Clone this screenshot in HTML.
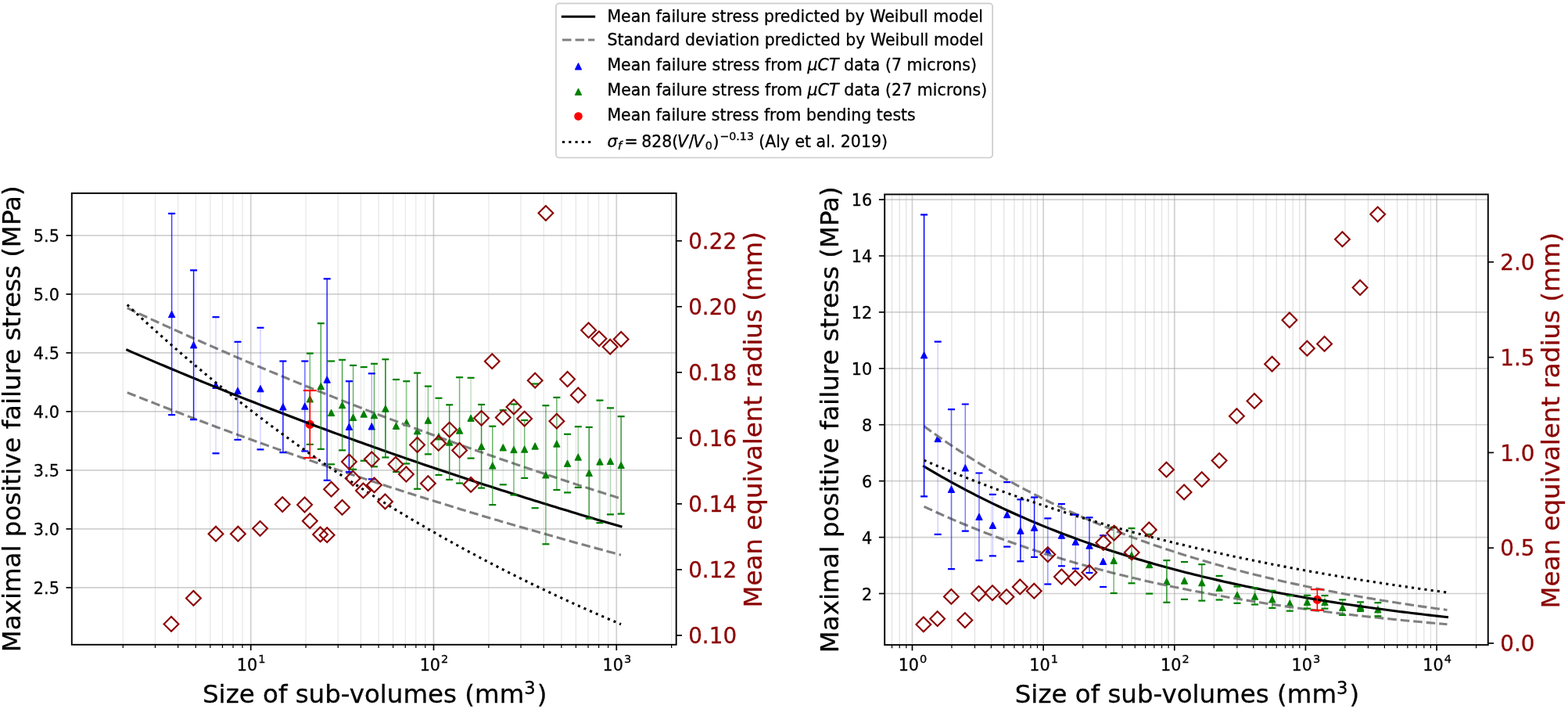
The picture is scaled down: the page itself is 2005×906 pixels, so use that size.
<!DOCTYPE html>
<html><head><meta charset="utf-8"><title>Failure stress vs sub-volume size</title>
<style>html,body{margin:0;padding:0;background:#fff;overflow:hidden}svg{display:block}text{stroke:currentColor;stroke-width:0.3px;paint-order:stroke}</style>
</head><body>
<svg width="2005" height="906" viewBox="0 0 2005 906" font-family="&quot;DejaVu Sans&quot;, &quot;Liberation Sans&quot;, sans-serif">
<defs>
<clipPath id="clipL"><rect x="91.8" y="246.9" width="772.9" height="576.9"/></clipPath>
<clipPath id="clipR"><rect x="1131.2" y="248.4" width="771.6" height="575.7"/></clipPath>
</defs>
<rect width="2005" height="906" fill="#fff"/>
<g>
<line x1="157.28" y1="246.9" x2="157.28" y2="823.8" stroke="#b0b0b0" stroke-opacity="0.3" stroke-width="1.2"/>
<line x1="198.45" y1="246.9" x2="198.45" y2="823.8" stroke="#b0b0b0" stroke-opacity="0.3" stroke-width="1.2"/>
<line x1="227.66" y1="246.9" x2="227.66" y2="823.8" stroke="#b0b0b0" stroke-opacity="0.3" stroke-width="1.2"/>
<line x1="250.32" y1="246.9" x2="250.32" y2="823.8" stroke="#b0b0b0" stroke-opacity="0.3" stroke-width="1.2"/>
<line x1="268.83" y1="246.9" x2="268.83" y2="823.8" stroke="#b0b0b0" stroke-opacity="0.3" stroke-width="1.2"/>
<line x1="284.48" y1="246.9" x2="284.48" y2="823.8" stroke="#b0b0b0" stroke-opacity="0.3" stroke-width="1.2"/>
<line x1="298.04" y1="246.9" x2="298.04" y2="823.8" stroke="#b0b0b0" stroke-opacity="0.3" stroke-width="1.2"/>
<line x1="310" y1="246.9" x2="310" y2="823.8" stroke="#b0b0b0" stroke-opacity="0.3" stroke-width="1.2"/>
<line x1="391.08" y1="246.9" x2="391.08" y2="823.8" stroke="#b0b0b0" stroke-opacity="0.3" stroke-width="1.2"/>
<line x1="432.25" y1="246.9" x2="432.25" y2="823.8" stroke="#b0b0b0" stroke-opacity="0.3" stroke-width="1.2"/>
<line x1="461.46" y1="246.9" x2="461.46" y2="823.8" stroke="#b0b0b0" stroke-opacity="0.3" stroke-width="1.2"/>
<line x1="484.12" y1="246.9" x2="484.12" y2="823.8" stroke="#b0b0b0" stroke-opacity="0.3" stroke-width="1.2"/>
<line x1="502.63" y1="246.9" x2="502.63" y2="823.8" stroke="#b0b0b0" stroke-opacity="0.3" stroke-width="1.2"/>
<line x1="518.28" y1="246.9" x2="518.28" y2="823.8" stroke="#b0b0b0" stroke-opacity="0.3" stroke-width="1.2"/>
<line x1="531.84" y1="246.9" x2="531.84" y2="823.8" stroke="#b0b0b0" stroke-opacity="0.3" stroke-width="1.2"/>
<line x1="543.8" y1="246.9" x2="543.8" y2="823.8" stroke="#b0b0b0" stroke-opacity="0.3" stroke-width="1.2"/>
<line x1="624.88" y1="246.9" x2="624.88" y2="823.8" stroke="#b0b0b0" stroke-opacity="0.3" stroke-width="1.2"/>
<line x1="666.05" y1="246.9" x2="666.05" y2="823.8" stroke="#b0b0b0" stroke-opacity="0.3" stroke-width="1.2"/>
<line x1="695.26" y1="246.9" x2="695.26" y2="823.8" stroke="#b0b0b0" stroke-opacity="0.3" stroke-width="1.2"/>
<line x1="717.92" y1="246.9" x2="717.92" y2="823.8" stroke="#b0b0b0" stroke-opacity="0.3" stroke-width="1.2"/>
<line x1="736.43" y1="246.9" x2="736.43" y2="823.8" stroke="#b0b0b0" stroke-opacity="0.3" stroke-width="1.2"/>
<line x1="752.08" y1="246.9" x2="752.08" y2="823.8" stroke="#b0b0b0" stroke-opacity="0.3" stroke-width="1.2"/>
<line x1="765.64" y1="246.9" x2="765.64" y2="823.8" stroke="#b0b0b0" stroke-opacity="0.3" stroke-width="1.2"/>
<line x1="777.6" y1="246.9" x2="777.6" y2="823.8" stroke="#b0b0b0" stroke-opacity="0.3" stroke-width="1.2"/>
<line x1="858.68" y1="246.9" x2="858.68" y2="823.8" stroke="#b0b0b0" stroke-opacity="0.3" stroke-width="1.2"/>
<line x1="320.7" y1="246.9" x2="320.7" y2="823.8" stroke="#b0b0b0" stroke-opacity="0.6" stroke-width="1.7"/>
<line x1="554.5" y1="246.9" x2="554.5" y2="823.8" stroke="#b0b0b0" stroke-opacity="0.6" stroke-width="1.7"/>
<line x1="788.3" y1="246.9" x2="788.3" y2="823.8" stroke="#b0b0b0" stroke-opacity="0.6" stroke-width="1.7"/>
<line x1="91.8" y1="750.9" x2="864.7" y2="750.9" stroke="#b0b0b0" stroke-opacity="0.6" stroke-width="1.7"/>
<line x1="91.8" y1="675.9" x2="864.7" y2="675.9" stroke="#b0b0b0" stroke-opacity="0.6" stroke-width="1.7"/>
<line x1="91.8" y1="600.9" x2="864.7" y2="600.9" stroke="#b0b0b0" stroke-opacity="0.6" stroke-width="1.7"/>
<line x1="91.8" y1="525.9" x2="864.7" y2="525.9" stroke="#b0b0b0" stroke-opacity="0.6" stroke-width="1.7"/>
<line x1="91.8" y1="450.9" x2="864.7" y2="450.9" stroke="#b0b0b0" stroke-opacity="0.6" stroke-width="1.7"/>
<line x1="91.8" y1="375.9" x2="864.7" y2="375.9" stroke="#b0b0b0" stroke-opacity="0.6" stroke-width="1.7"/>
<line x1="91.8" y1="300.9" x2="864.7" y2="300.9" stroke="#b0b0b0" stroke-opacity="0.6" stroke-width="1.7"/>
<g clip-path="url(#clipL)">
<circle cx="396.3" cy="542.4" r="5.6" fill="#ff0000"/>
<path d="M219.6,397.3 L215.4,405.7 L223.8,405.7 Z" fill="#0000ff" stroke="#0000ff" stroke-width="1" stroke-linejoin="miter"/>
<path d="M247.6,436.5 L243.4,444.9 L251.8,444.9 Z" fill="#0000ff" stroke="#0000ff" stroke-width="1" stroke-linejoin="miter"/>
<path d="M276,488 L271.8,496.4 L280.2,496.4 Z" fill="#0000ff" stroke="#0000ff" stroke-width="1" stroke-linejoin="miter"/>
<path d="M304,495.1 L299.8,503.5 L308.2,503.5 Z" fill="#0000ff" stroke="#0000ff" stroke-width="1" stroke-linejoin="miter"/>
<path d="M333,492.4 L328.8,500.8 L337.2,500.8 Z" fill="#0000ff" stroke="#0000ff" stroke-width="1" stroke-linejoin="miter"/>
<path d="M361.9,515.6 L357.7,524 L366.1,524 Z" fill="#0000ff" stroke="#0000ff" stroke-width="1" stroke-linejoin="miter"/>
<path d="M389.8,514.8 L385.6,523.2 L394,523.2 Z" fill="#0000ff" stroke="#0000ff" stroke-width="1" stroke-linejoin="miter"/>
<path d="M418.2,480.8 L414,489.2 L422.4,489.2 Z" fill="#0000ff" stroke="#0000ff" stroke-width="1" stroke-linejoin="miter"/>
<path d="M446.4,541 L442.2,549.4 L450.6,549.4 Z" fill="#0000ff" stroke="#0000ff" stroke-width="1" stroke-linejoin="miter"/>
<path d="M475.3,540.6 L471.1,549 L479.5,549 Z" fill="#0000ff" stroke="#0000ff" stroke-width="1" stroke-linejoin="miter"/>
<path d="M396.3,505.6 L392.1,514 L400.5,514 Z" fill="#008000" stroke="#008000" stroke-width="1" stroke-linejoin="miter"/>
<path d="M410.3,489.3 L406.1,497.7 L414.5,497.7 Z" fill="#008000" stroke="#008000" stroke-width="1" stroke-linejoin="miter"/>
<path d="M423.6,523.2 L419.4,531.6 L427.8,531.6 Z" fill="#008000" stroke="#008000" stroke-width="1" stroke-linejoin="miter"/>
<path d="M437.6,513.4 L433.4,521.8 L441.8,521.8 Z" fill="#008000" stroke="#008000" stroke-width="1" stroke-linejoin="miter"/>
<path d="M451.6,529.1 L447.4,537.5 L455.8,537.5 Z" fill="#008000" stroke="#008000" stroke-width="1" stroke-linejoin="miter"/>
<path d="M465.2,524.8 L461,533.2 L469.4,533.2 Z" fill="#008000" stroke="#008000" stroke-width="1" stroke-linejoin="miter"/>
<path d="M478.5,526.4 L474.3,534.8 L482.7,534.8 Z" fill="#008000" stroke="#008000" stroke-width="1" stroke-linejoin="miter"/>
<path d="M492.9,517.8 L488.7,526.2 L497.1,526.2 Z" fill="#008000" stroke="#008000" stroke-width="1" stroke-linejoin="miter"/>
<path d="M506.5,540 L502.3,548.4 L510.7,548.4 Z" fill="#008000" stroke="#008000" stroke-width="1" stroke-linejoin="miter"/>
<path d="M519.8,535.7 L515.6,544.1 L524,544.1 Z" fill="#008000" stroke="#008000" stroke-width="1" stroke-linejoin="miter"/>
<path d="M533.6,546.5 L529.4,554.9 L537.8,554.9 Z" fill="#008000" stroke="#008000" stroke-width="1" stroke-linejoin="miter"/>
<path d="M547.4,532.8 L543.2,541.2 L551.6,541.2 Z" fill="#008000" stroke="#008000" stroke-width="1" stroke-linejoin="miter"/>
<path d="M561,553.6 L556.8,562 L565.2,562 Z" fill="#008000" stroke="#008000" stroke-width="1" stroke-linejoin="miter"/>
<path d="M574.7,560.8 L570.5,569.2 L578.9,569.2 Z" fill="#008000" stroke="#008000" stroke-width="1" stroke-linejoin="miter"/>
<path d="M587.6,545.8 L583.4,554.2 L591.8,554.2 Z" fill="#008000" stroke="#008000" stroke-width="1" stroke-linejoin="miter"/>
<path d="M602.1,530 L597.9,538.4 L606.3,538.4 Z" fill="#008000" stroke="#008000" stroke-width="1" stroke-linejoin="miter"/>
<path d="M615.6,566.1 L611.4,574.5 L619.8,574.5 Z" fill="#008000" stroke="#008000" stroke-width="1" stroke-linejoin="miter"/>
<path d="M629.8,590.7 L625.6,599.1 L634,599.1 Z" fill="#008000" stroke="#008000" stroke-width="1" stroke-linejoin="miter"/>
<path d="M643.3,567.6 L639.1,576 L647.5,576 Z" fill="#008000" stroke="#008000" stroke-width="1" stroke-linejoin="miter"/>
<path d="M657,570.3 L652.8,578.7 L661.2,578.7 Z" fill="#008000" stroke="#008000" stroke-width="1" stroke-linejoin="miter"/>
<path d="M670.7,569.8 L666.5,578.2 L674.9,578.2 Z" fill="#008000" stroke="#008000" stroke-width="1" stroke-linejoin="miter"/>
<path d="M684.2,565.8 L680,574.2 L688.4,574.2 Z" fill="#008000" stroke="#008000" stroke-width="1" stroke-linejoin="miter"/>
<path d="M697.9,602.6 L693.7,611 L702.1,611 Z" fill="#008000" stroke="#008000" stroke-width="1" stroke-linejoin="miter"/>
<path d="M711.9,562.8 L707.7,571.2 L716.1,571.2 Z" fill="#008000" stroke="#008000" stroke-width="1" stroke-linejoin="miter"/>
<path d="M725.6,587.9 L721.4,596.3 L729.8,596.3 Z" fill="#008000" stroke="#008000" stroke-width="1" stroke-linejoin="miter"/>
<path d="M739.3,579.8 L735.1,588.2 L743.5,588.2 Z" fill="#008000" stroke="#008000" stroke-width="1" stroke-linejoin="miter"/>
<path d="M753.3,600.1 L749.1,608.5 L757.5,608.5 Z" fill="#008000" stroke="#008000" stroke-width="1" stroke-linejoin="miter"/>
<path d="M767,585.7 L762.8,594.1 L771.2,594.1 Z" fill="#008000" stroke="#008000" stroke-width="1" stroke-linejoin="miter"/>
<path d="M780.5,585.1 L776.3,593.5 L784.7,593.5 Z" fill="#008000" stroke="#008000" stroke-width="1" stroke-linejoin="miter"/>
<path d="M794.2,590.2 L790,598.6 L798.4,598.6 Z" fill="#008000" stroke="#008000" stroke-width="1" stroke-linejoin="miter"/>
<path d="M162.72,447.3 L167.98,449.58 L173.24,451.85 L178.5,454.12 L183.76,456.38 L189.02,458.63 L194.28,460.87 L199.54,463.11 L204.8,465.34 L210.07,467.56 L215.33,469.77 L220.59,471.98 L225.85,474.18 L231.11,476.37 L236.37,478.55 L241.63,480.73 L246.89,482.9 L252.15,485.06 L257.41,487.21 L262.67,489.36 L267.94,491.5 L273.2,493.63 L278.46,495.76 L283.72,497.88 L288.98,499.99 L294.24,502.09 L299.5,504.19 L304.76,506.28 L310.02,508.36 L315.28,510.44 L320.54,512.51 L325.81,514.57 L331.07,516.63 L336.33,518.68 L341.59,520.72 L346.85,522.75 L352.11,524.78 L357.37,526.8 L362.63,528.82 L367.89,530.82 L373.15,532.82 L378.41,534.82 L383.67,536.8 L388.94,538.79 L394.2,540.76 L399.46,542.73 L404.72,544.69 L409.98,546.64 L415.24,548.59 L420.5,550.53 L425.76,552.46 L431.02,554.39 L436.28,556.31 L441.54,558.23 L446.81,560.14 L452.07,562.04 L457.33,563.94 L462.59,565.82 L467.85,567.71 L473.11,569.58 L478.37,571.46 L483.63,573.32 L488.89,575.18 L494.15,577.03 L499.41,578.87 L504.68,580.71 L509.94,582.55 L515.2,584.37 L520.46,586.19 L525.72,588.01 L530.98,589.82 L536.24,591.62 L541.5,593.42 L546.76,595.21 L552.02,596.99 L557.28,598.77 L562.55,600.54 L567.81,602.31 L573.07,604.07 L578.33,605.82 L583.59,607.57 L588.85,609.31 L594.11,611.05 L599.37,612.78 L604.63,614.51 L609.89,616.23 L615.15,617.94 L620.42,619.65 L625.68,621.35 L630.94,623.05 L636.2,624.74 L641.46,626.42 L646.72,628.1 L651.98,629.77 L657.24,631.44 L662.5,633.1 L667.76,634.76 L673.02,636.41 L678.29,638.06 L683.55,639.7 L688.81,641.33 L694.07,642.96 L699.33,644.59 L704.59,646.2 L709.85,647.82 L715.11,649.42 L720.37,651.03 L725.63,652.62 L730.89,654.21 L736.15,655.8 L741.42,657.38 L746.68,658.96 L751.94,660.53 L757.2,662.09 L762.46,663.65 L767.72,665.2 L772.98,666.75 L778.24,668.3 L783.5,669.83 L788.76,671.37 L794.02,672.9" fill="none" stroke="#000" stroke-width="3.125" stroke-linecap="square"/>
<path d="M162.72,393.69 L167.98,396.15 L173.24,398.6 L178.5,401.05 L183.76,403.49 L189.02,405.91 L194.28,408.34 L199.54,410.75 L204.8,413.15 L210.07,415.55 L215.33,417.94 L220.59,420.32 L225.85,422.69 L231.11,425.05 L236.37,427.41 L241.63,429.76 L246.89,432.1 L252.15,434.43 L257.41,436.76 L262.67,439.07 L267.94,441.38 L273.2,443.68 L278.46,445.98 L283.72,448.26 L288.98,450.54 L294.24,452.81 L299.5,455.08 L304.76,457.33 L310.02,459.58 L315.28,461.82 L320.54,464.05 L325.81,466.28 L331.07,468.5 L336.33,470.71 L341.59,472.91 L346.85,475.1 L352.11,477.29 L357.37,479.47 L362.63,481.65 L367.89,483.81 L373.15,485.97 L378.41,488.12 L383.67,490.27 L388.94,492.4 L394.2,494.53 L399.46,496.66 L404.72,498.77 L409.98,500.88 L415.24,502.98 L420.5,505.08 L425.76,507.16 L431.02,509.24 L436.28,511.32 L441.54,513.38 L446.81,515.44 L452.07,517.49 L457.33,519.54 L462.59,521.58 L467.85,523.61 L473.11,525.64 L478.37,527.65 L483.63,529.67 L488.89,531.67 L494.15,533.67 L499.41,535.66 L504.68,537.64 L509.94,539.62 L515.2,541.59 L520.46,543.56 L525.72,545.51 L530.98,547.47 L536.24,549.41 L541.5,551.35 L546.76,553.28 L552.02,555.21 L557.28,557.12 L562.55,559.04 L567.81,560.94 L573.07,562.84 L578.33,564.74 L583.59,566.62 L588.85,568.5 L594.11,570.38 L599.37,572.24 L604.63,574.11 L609.89,575.96 L615.15,577.81 L620.42,579.65 L625.68,581.49 L630.94,583.32 L636.2,585.14 L641.46,586.96 L646.72,588.77 L651.98,590.58 L657.24,592.38 L662.5,594.17 L667.76,595.96 L673.02,597.74 L678.29,599.52 L683.55,601.29 L688.81,603.05 L694.07,604.81 L699.33,606.56 L704.59,608.31 L709.85,610.05 L715.11,611.78 L720.37,613.51 L725.63,615.23 L730.89,616.95 L736.15,618.66 L741.42,620.37 L746.68,622.07 L751.94,623.76 L757.2,625.45 L762.46,627.13 L767.72,628.81 L772.98,630.48 L778.24,632.15 L783.5,633.81 L788.76,635.46 L794.02,637.11" fill="none" stroke="#808080" stroke-width="3.125" stroke-dasharray="11.56 5"/>
<path d="M162.72,501.59 L167.98,503.69 L173.24,505.78 L178.5,507.86 L183.76,509.94 L189.02,512.01 L194.28,514.07 L199.54,516.13 L204.8,518.18 L210.07,520.23 L215.33,522.26 L220.59,524.29 L225.85,526.31 L231.11,528.33 L236.37,530.34 L241.63,532.34 L246.89,534.34 L252.15,536.33 L257.41,538.31 L262.67,540.28 L267.94,542.25 L273.2,544.21 L278.46,546.17 L283.72,548.12 L288.98,550.06 L294.24,552 L299.5,553.93 L304.76,555.85 L310.02,557.77 L315.28,559.68 L320.54,561.58 L325.81,563.48 L331.07,565.37 L336.33,567.25 L341.59,569.13 L346.85,571 L352.11,572.87 L357.37,574.73 L362.63,576.58 L367.89,578.43 L373.15,580.27 L378.41,582.1 L383.67,583.93 L388.94,585.75 L394.2,587.57 L399.46,589.38 L404.72,591.18 L409.98,592.98 L415.24,594.77 L420.5,596.56 L425.76,598.34 L431.02,600.11 L436.28,601.88 L441.54,603.64 L446.81,605.4 L452.07,607.15 L457.33,608.89 L462.59,610.63 L467.85,612.36 L473.11,614.09 L478.37,615.81 L483.63,617.53 L488.89,619.23 L494.15,620.94 L499.41,622.64 L504.68,624.33 L509.94,626.01 L515.2,627.7 L520.46,629.37 L525.72,631.04 L530.98,632.7 L536.24,634.36 L541.5,636.01 L546.76,637.66 L552.02,639.3 L557.28,640.94 L562.55,642.57 L567.81,644.19 L573.07,645.81 L578.33,647.43 L583.59,649.04 L588.85,650.64 L594.11,652.24 L599.37,653.83 L604.63,655.42 L609.89,657 L615.15,658.58 L620.42,660.15 L625.68,661.71 L630.94,663.27 L636.2,664.83 L641.46,666.38 L646.72,667.92 L651.98,669.46 L657.24,671 L662.5,672.53 L667.76,674.05 L673.02,675.57 L678.29,677.09 L683.55,678.59 L688.81,680.1 L694.07,681.6 L699.33,683.09 L704.59,684.58 L709.85,686.06 L715.11,687.54 L720.37,689.02 L725.63,690.48 L730.89,691.95 L736.15,693.41 L741.42,694.86 L746.68,696.31 L751.94,697.76 L757.2,699.19 L762.46,700.63 L767.72,702.06 L772.98,703.48 L778.24,704.9 L783.5,706.32 L788.76,707.73 L794.02,709.14" fill="none" stroke="#808080" stroke-width="3.125" stroke-dasharray="11.56 5"/>
<line x1="219.6" y1="272.8" x2="219.6" y2="530.2" stroke="#0000ff" stroke-opacity="0.75" stroke-width="1.5"/>
<line x1="247.6" y1="345.4" x2="247.6" y2="536.1" stroke="#0000ff" stroke-opacity="0.9" stroke-width="1.5"/>
<line x1="276" y1="405.2" x2="276" y2="579.3" stroke="#0000ff" stroke-opacity="0.15" stroke-width="1.5"/>
<line x1="304" y1="436.8" x2="304" y2="561.9" stroke="#0000ff" stroke-opacity="0.45" stroke-width="1.5"/>
<line x1="333" y1="418.8" x2="333" y2="574.4" stroke="#0000ff" stroke-opacity="0.18" stroke-width="1.5"/>
<line x1="361.9" y1="461.5" x2="361.9" y2="578.2" stroke="#0000ff" stroke-opacity="0.9" stroke-width="1.5"/>
<line x1="389.8" y1="461.5" x2="389.8" y2="576.5" stroke="#0000ff" stroke-opacity="0.55" stroke-width="1.5"/>
<line x1="418.2" y1="356.3" x2="418.2" y2="613.8" stroke="#0000ff" stroke-opacity="0.85" stroke-width="1.5"/>
<line x1="446.4" y1="487.2" x2="446.4" y2="603.2" stroke="#0000ff" stroke-opacity="0.95" stroke-width="1.5"/>
<line x1="475.3" y1="477.3" x2="475.3" y2="612.3" stroke="#0000ff" stroke-opacity="0.3" stroke-width="1.5"/>
<line x1="396.3" y1="451.6" x2="396.3" y2="567.9" stroke="#008000" stroke-opacity="0.55" stroke-width="1.5"/>
<line x1="410.3" y1="413.2" x2="410.3" y2="573.9" stroke="#008000" stroke-opacity="0.7" stroke-width="1.5"/>
<line x1="423.6" y1="461.5" x2="423.6" y2="593.3" stroke="#008000" stroke-opacity="0.08" stroke-width="1.5"/>
<line x1="437.6" y1="459.8" x2="437.6" y2="575.4" stroke="#008000" stroke-opacity="0.7" stroke-width="1.5"/>
<line x1="451.6" y1="466.9" x2="451.6" y2="599.8" stroke="#008000" stroke-opacity="0.6" stroke-width="1.5"/>
<line x1="465.2" y1="469.1" x2="465.2" y2="588.8" stroke="#008000" stroke-opacity="0.08" stroke-width="1.5"/>
<line x1="478.5" y1="464.8" x2="478.5" y2="596.3" stroke="#008000" stroke-opacity="0.6" stroke-width="1.5"/>
<line x1="492.9" y1="459.2" x2="492.9" y2="584.5" stroke="#008000" stroke-opacity="0.95" stroke-width="1.5"/>
<line x1="506.5" y1="485" x2="506.5" y2="603" stroke="#008000" stroke-opacity="0.3" stroke-width="1.5"/>
<line x1="519.8" y1="487.2" x2="519.8" y2="592.5" stroke="#008000" stroke-opacity="0.45" stroke-width="1.5"/>
<line x1="533.6" y1="476.6" x2="533.6" y2="624.8" stroke="#008000" stroke-opacity="0.95" stroke-width="1.5"/>
<line x1="547.4" y1="493.6" x2="547.4" y2="580.4" stroke="#008000" stroke-opacity="0.45" stroke-width="1.5"/>
<line x1="561" y1="508.7" x2="561" y2="606.9" stroke="#008000" stroke-opacity="0.3" stroke-width="1.5"/>
<line x1="574.7" y1="517.3" x2="574.7" y2="612.9" stroke="#008000" stroke-opacity="0.8" stroke-width="1.5"/>
<line x1="587.6" y1="482.2" x2="587.6" y2="617.5" stroke="#008000" stroke-opacity="0.55" stroke-width="1.5"/>
<line x1="602.1" y1="482.8" x2="602.1" y2="585.6" stroke="#008000" stroke-opacity="0.25" stroke-width="1.5"/>
<line x1="615.6" y1="517" x2="615.6" y2="623.6" stroke="#008000" stroke-opacity="0.8" stroke-width="1.5"/>
<line x1="629.8" y1="544.7" x2="629.8" y2="645.1" stroke="#008000" stroke-opacity="0.6" stroke-width="1.5"/>
<line x1="643.3" y1="524.2" x2="643.3" y2="619.3" stroke="#008000" stroke-opacity="0.1" stroke-width="1.5"/>
<line x1="657" y1="516.5" x2="657" y2="632.5" stroke="#008000" stroke-opacity="0.55" stroke-width="1.5"/>
<line x1="670.7" y1="537" x2="670.7" y2="610.9" stroke="#008000" stroke-opacity="0.55" stroke-width="1.5"/>
<line x1="684.2" y1="490.5" x2="684.2" y2="649.2" stroke="#008000" stroke-opacity="0.08" stroke-width="1.5"/>
<line x1="697.9" y1="518.2" x2="697.9" y2="695.3" stroke="#008000" stroke-opacity="0.55" stroke-width="1.5"/>
<line x1="711.9" y1="507.9" x2="711.9" y2="626" stroke="#008000" stroke-opacity="0.6" stroke-width="1.5"/>
<line x1="725.6" y1="554.8" x2="725.6" y2="629.4" stroke="#008000" stroke-opacity="0.25" stroke-width="1.5"/>
<line x1="739.3" y1="545.2" x2="739.3" y2="622.9" stroke="#008000" stroke-opacity="0.35" stroke-width="1.5"/>
<line x1="753.3" y1="545.9" x2="753.3" y2="662.6" stroke="#008000" stroke-opacity="0.75" stroke-width="1.5"/>
<line x1="767" y1="511.7" x2="767" y2="668.1" stroke="#008000" stroke-opacity="0.3" stroke-width="1.5"/>
<line x1="780.5" y1="521.3" x2="780.5" y2="657.3" stroke="#008000" stroke-opacity="0.3" stroke-width="1.5"/>
<line x1="794.2" y1="532.2" x2="794.2" y2="656.6" stroke="#008000" stroke-opacity="0.8" stroke-width="1.5"/>
<line x1="215.1" y1="272.8" x2="224.1" y2="272.8" stroke="#0000ff" stroke-width="2.2"/>
<line x1="215.1" y1="530.2" x2="224.1" y2="530.2" stroke="#0000ff" stroke-width="2.2"/>
<line x1="243.1" y1="345.4" x2="252.1" y2="345.4" stroke="#0000ff" stroke-width="2.2"/>
<line x1="243.1" y1="536.1" x2="252.1" y2="536.1" stroke="#0000ff" stroke-width="2.2"/>
<line x1="271.5" y1="405.2" x2="280.5" y2="405.2" stroke="#0000ff" stroke-width="2.2"/>
<line x1="271.5" y1="579.3" x2="280.5" y2="579.3" stroke="#0000ff" stroke-width="2.2"/>
<line x1="299.5" y1="436.8" x2="308.5" y2="436.8" stroke="#0000ff" stroke-width="2.2"/>
<line x1="299.5" y1="561.9" x2="308.5" y2="561.9" stroke="#0000ff" stroke-width="2.2"/>
<line x1="328.5" y1="418.8" x2="337.5" y2="418.8" stroke="#0000ff" stroke-width="2.2"/>
<line x1="328.5" y1="574.4" x2="337.5" y2="574.4" stroke="#0000ff" stroke-width="2.2"/>
<line x1="357.4" y1="461.5" x2="366.4" y2="461.5" stroke="#0000ff" stroke-width="2.2"/>
<line x1="357.4" y1="578.2" x2="366.4" y2="578.2" stroke="#0000ff" stroke-width="2.2"/>
<line x1="385.3" y1="461.5" x2="394.3" y2="461.5" stroke="#0000ff" stroke-width="2.2"/>
<line x1="385.3" y1="576.5" x2="394.3" y2="576.5" stroke="#0000ff" stroke-width="2.2"/>
<line x1="413.7" y1="356.3" x2="422.7" y2="356.3" stroke="#0000ff" stroke-width="2.2"/>
<line x1="413.7" y1="613.8" x2="422.7" y2="613.8" stroke="#0000ff" stroke-width="2.2"/>
<line x1="441.9" y1="487.2" x2="450.9" y2="487.2" stroke="#0000ff" stroke-width="2.2"/>
<line x1="441.9" y1="603.2" x2="450.9" y2="603.2" stroke="#0000ff" stroke-width="2.2"/>
<line x1="470.8" y1="477.3" x2="479.8" y2="477.3" stroke="#0000ff" stroke-width="2.2"/>
<line x1="470.8" y1="612.3" x2="479.8" y2="612.3" stroke="#0000ff" stroke-width="2.2"/>
<line x1="391.8" y1="451.6" x2="400.8" y2="451.6" stroke="#008000" stroke-width="2.2"/>
<line x1="391.8" y1="567.9" x2="400.8" y2="567.9" stroke="#008000" stroke-width="2.2"/>
<line x1="405.8" y1="413.2" x2="414.8" y2="413.2" stroke="#008000" stroke-width="2.2"/>
<line x1="405.8" y1="573.9" x2="414.8" y2="573.9" stroke="#008000" stroke-width="2.2"/>
<line x1="419.1" y1="461.5" x2="428.1" y2="461.5" stroke="#008000" stroke-width="2.2"/>
<line x1="419.1" y1="593.3" x2="428.1" y2="593.3" stroke="#008000" stroke-width="2.2"/>
<line x1="433.1" y1="459.8" x2="442.1" y2="459.8" stroke="#008000" stroke-width="2.2"/>
<line x1="433.1" y1="575.4" x2="442.1" y2="575.4" stroke="#008000" stroke-width="2.2"/>
<line x1="447.1" y1="466.9" x2="456.1" y2="466.9" stroke="#008000" stroke-width="2.2"/>
<line x1="447.1" y1="599.8" x2="456.1" y2="599.8" stroke="#008000" stroke-width="2.2"/>
<line x1="460.7" y1="469.1" x2="469.7" y2="469.1" stroke="#008000" stroke-width="2.2"/>
<line x1="460.7" y1="588.8" x2="469.7" y2="588.8" stroke="#008000" stroke-width="2.2"/>
<line x1="474" y1="464.8" x2="483" y2="464.8" stroke="#008000" stroke-width="2.2"/>
<line x1="474" y1="596.3" x2="483" y2="596.3" stroke="#008000" stroke-width="2.2"/>
<line x1="488.4" y1="459.2" x2="497.4" y2="459.2" stroke="#008000" stroke-width="2.2"/>
<line x1="488.4" y1="584.5" x2="497.4" y2="584.5" stroke="#008000" stroke-width="2.2"/>
<line x1="502" y1="485" x2="511" y2="485" stroke="#008000" stroke-width="2.2"/>
<line x1="502" y1="603" x2="511" y2="603" stroke="#008000" stroke-width="2.2"/>
<line x1="515.3" y1="487.2" x2="524.3" y2="487.2" stroke="#008000" stroke-width="2.2"/>
<line x1="515.3" y1="592.5" x2="524.3" y2="592.5" stroke="#008000" stroke-width="2.2"/>
<line x1="529.1" y1="476.6" x2="538.1" y2="476.6" stroke="#008000" stroke-width="2.2"/>
<line x1="529.1" y1="624.8" x2="538.1" y2="624.8" stroke="#008000" stroke-width="2.2"/>
<line x1="542.9" y1="493.6" x2="551.9" y2="493.6" stroke="#008000" stroke-width="2.2"/>
<line x1="542.9" y1="580.4" x2="551.9" y2="580.4" stroke="#008000" stroke-width="2.2"/>
<line x1="556.5" y1="508.7" x2="565.5" y2="508.7" stroke="#008000" stroke-width="2.2"/>
<line x1="556.5" y1="606.9" x2="565.5" y2="606.9" stroke="#008000" stroke-width="2.2"/>
<line x1="570.2" y1="517.3" x2="579.2" y2="517.3" stroke="#008000" stroke-width="2.2"/>
<line x1="570.2" y1="612.9" x2="579.2" y2="612.9" stroke="#008000" stroke-width="2.2"/>
<line x1="583.1" y1="482.2" x2="592.1" y2="482.2" stroke="#008000" stroke-width="2.2"/>
<line x1="583.1" y1="617.5" x2="592.1" y2="617.5" stroke="#008000" stroke-width="2.2"/>
<line x1="597.6" y1="482.8" x2="606.6" y2="482.8" stroke="#008000" stroke-width="2.2"/>
<line x1="597.6" y1="585.6" x2="606.6" y2="585.6" stroke="#008000" stroke-width="2.2"/>
<line x1="611.1" y1="517" x2="620.1" y2="517" stroke="#008000" stroke-width="2.2"/>
<line x1="611.1" y1="623.6" x2="620.1" y2="623.6" stroke="#008000" stroke-width="2.2"/>
<line x1="625.3" y1="544.7" x2="634.3" y2="544.7" stroke="#008000" stroke-width="2.2"/>
<line x1="625.3" y1="645.1" x2="634.3" y2="645.1" stroke="#008000" stroke-width="2.2"/>
<line x1="638.8" y1="524.2" x2="647.8" y2="524.2" stroke="#008000" stroke-width="2.2"/>
<line x1="638.8" y1="619.3" x2="647.8" y2="619.3" stroke="#008000" stroke-width="2.2"/>
<line x1="652.5" y1="516.5" x2="661.5" y2="516.5" stroke="#008000" stroke-width="2.2"/>
<line x1="652.5" y1="632.5" x2="661.5" y2="632.5" stroke="#008000" stroke-width="2.2"/>
<line x1="666.2" y1="537" x2="675.2" y2="537" stroke="#008000" stroke-width="2.2"/>
<line x1="666.2" y1="610.9" x2="675.2" y2="610.9" stroke="#008000" stroke-width="2.2"/>
<line x1="679.7" y1="490.5" x2="688.7" y2="490.5" stroke="#008000" stroke-width="2.2"/>
<line x1="679.7" y1="649.2" x2="688.7" y2="649.2" stroke="#008000" stroke-width="2.2"/>
<line x1="693.4" y1="518.2" x2="702.4" y2="518.2" stroke="#008000" stroke-width="2.2"/>
<line x1="693.4" y1="695.3" x2="702.4" y2="695.3" stroke="#008000" stroke-width="2.2"/>
<line x1="707.4" y1="507.9" x2="716.4" y2="507.9" stroke="#008000" stroke-width="2.2"/>
<line x1="707.4" y1="626" x2="716.4" y2="626" stroke="#008000" stroke-width="2.2"/>
<line x1="721.1" y1="554.8" x2="730.1" y2="554.8" stroke="#008000" stroke-width="2.2"/>
<line x1="721.1" y1="629.4" x2="730.1" y2="629.4" stroke="#008000" stroke-width="2.2"/>
<line x1="734.8" y1="545.2" x2="743.8" y2="545.2" stroke="#008000" stroke-width="2.2"/>
<line x1="734.8" y1="622.9" x2="743.8" y2="622.9" stroke="#008000" stroke-width="2.2"/>
<line x1="748.8" y1="545.9" x2="757.8" y2="545.9" stroke="#008000" stroke-width="2.2"/>
<line x1="748.8" y1="662.6" x2="757.8" y2="662.6" stroke="#008000" stroke-width="2.2"/>
<line x1="762.5" y1="511.7" x2="771.5" y2="511.7" stroke="#008000" stroke-width="2.2"/>
<line x1="762.5" y1="668.1" x2="771.5" y2="668.1" stroke="#008000" stroke-width="2.2"/>
<line x1="776" y1="521.3" x2="785" y2="521.3" stroke="#008000" stroke-width="2.2"/>
<line x1="776" y1="657.3" x2="785" y2="657.3" stroke="#008000" stroke-width="2.2"/>
<line x1="789.7" y1="532.2" x2="798.7" y2="532.2" stroke="#008000" stroke-width="2.2"/>
<line x1="789.7" y1="656.6" x2="798.7" y2="656.6" stroke="#008000" stroke-width="2.2"/>
<line x1="396.3" y1="499" x2="396.3" y2="585" stroke="#ff0000" stroke-width="1.6"/>
<line x1="387.8" y1="499" x2="404.8" y2="499" stroke="#ff0000" stroke-width="2.2"/>
<line x1="387.8" y1="585" x2="404.8" y2="585" stroke="#ff0000" stroke-width="2.2"/>
<path d="M162.72,389.47 L167.98,394.41 L173.24,399.32 L178.5,404.2 L183.76,409.05 L189.02,413.86 L194.28,418.64 L199.54,423.39 L204.8,428.1 L210.07,432.79 L215.33,437.44 L220.59,442.06 L225.85,446.65 L231.11,451.21 L236.37,455.74 L241.63,460.24 L246.89,464.71 L252.15,469.15 L257.41,473.55 L262.67,477.93 L267.94,482.28 L273.2,486.6 L278.46,490.9 L283.72,495.16 L288.98,499.39 L294.24,503.6 L299.5,507.78 L304.76,511.92 L310.02,516.05 L315.28,520.14 L320.54,524.21 L325.81,528.25 L331.07,532.26 L336.33,536.24 L341.59,540.2 L346.85,544.13 L352.11,548.04 L357.37,551.92 L362.63,555.77 L367.89,559.6 L373.15,563.4 L378.41,567.18 L383.67,570.93 L388.94,574.65 L394.2,578.35 L399.46,582.03 L404.72,585.68 L409.98,589.31 L415.24,592.91 L420.5,596.49 L425.76,600.04 L431.02,603.57 L436.28,607.08 L441.54,610.56 L446.81,614.02 L452.07,617.45 L457.33,620.87 L462.59,624.26 L467.85,627.63 L473.11,630.97 L478.37,634.29 L483.63,637.59 L488.89,640.87 L494.15,644.13 L499.41,647.36 L504.68,650.57 L509.94,653.76 L515.2,656.93 L520.46,660.08 L525.72,663.21 L530.98,666.31 L536.24,669.4 L541.5,672.46 L546.76,675.51 L552.02,678.53 L557.28,681.53 L562.55,684.52 L567.81,687.48 L573.07,690.42 L578.33,693.35 L583.59,696.25 L588.85,699.13 L594.11,702 L599.37,704.85 L604.63,707.67 L609.89,710.48 L615.15,713.27 L620.42,716.04 L625.68,718.79 L630.94,721.52 L636.2,724.24 L641.46,726.93 L646.72,729.61 L651.98,732.27 L657.24,734.91 L662.5,737.54 L667.76,740.15 L673.02,742.74 L678.29,745.31 L683.55,747.86 L688.81,750.4 L694.07,752.92 L699.33,755.42 L704.59,757.91 L709.85,760.38 L715.11,762.84 L720.37,765.27 L725.63,767.69 L730.89,770.1 L736.15,772.49 L741.42,774.86 L746.68,777.22 L751.94,779.56 L757.2,781.88 L762.46,784.19 L767.72,786.48 L772.98,788.76 L778.24,791.03 L783.5,793.27 L788.76,795.51 L794.02,797.73" fill="none" stroke="#000" stroke-width="3.125" stroke-dasharray="3.125 5.16"/>
<path d="M219,788 L228.4,797.4 L219,806.8 L209.6,797.4 Z" fill="none" stroke="#8b0000" stroke-width="2.1"/>
<path d="M247.4,755 L256.8,764.4 L247.4,773.8 L238,764.4 Z" fill="none" stroke="#8b0000" stroke-width="2.1"/>
<path d="M276,672.8 L285.4,682.2 L276,691.6 L266.6,682.2 Z" fill="none" stroke="#8b0000" stroke-width="2.1"/>
<path d="M304.4,672.8 L313.8,682.2 L304.4,691.6 L295,682.2 Z" fill="none" stroke="#8b0000" stroke-width="2.1"/>
<path d="M332.6,665.9 L342,675.3 L332.6,684.7 L323.2,675.3 Z" fill="none" stroke="#8b0000" stroke-width="2.1"/>
<path d="M361.2,635.2 L370.6,644.6 L361.2,654 L351.8,644.6 Z" fill="none" stroke="#8b0000" stroke-width="2.1"/>
<path d="M389.6,635.6 L399,645 L389.6,654.4 L380.2,645 Z" fill="none" stroke="#8b0000" stroke-width="2.1"/>
<path d="M418.2,674.3 L427.6,683.7 L418.2,693.1 L408.8,683.7 Z" fill="none" stroke="#8b0000" stroke-width="2.1"/>
<path d="M446.4,580.6 L455.8,590 L446.4,599.4 L437,590 Z" fill="none" stroke="#8b0000" stroke-width="2.1"/>
<path d="M475.3,577.4 L484.7,586.8 L475.3,596.2 L465.9,586.8 Z" fill="none" stroke="#8b0000" stroke-width="2.1"/>
<path d="M396.3,656.3 L405.7,665.7 L396.3,675.1 L386.9,665.7 Z" fill="none" stroke="#8b0000" stroke-width="2.1"/>
<path d="M409.6,673.5 L419,682.9 L409.6,692.3 L400.2,682.9 Z" fill="none" stroke="#8b0000" stroke-width="2.1"/>
<path d="M423.6,615.8 L433,625.2 L423.6,634.6 L414.2,625.2 Z" fill="none" stroke="#8b0000" stroke-width="2.1"/>
<path d="M437.6,639 L447,648.4 L437.6,657.8 L428.2,648.4 Z" fill="none" stroke="#8b0000" stroke-width="2.1"/>
<path d="M451.2,601.8 L460.6,611.2 L451.2,620.6 L441.8,611.2 Z" fill="none" stroke="#8b0000" stroke-width="2.1"/>
<path d="M464.5,617.5 L473.9,626.9 L464.5,636.3 L455.1,626.9 Z" fill="none" stroke="#8b0000" stroke-width="2.1"/>
<path d="M478.5,610.4 L487.9,619.8 L478.5,629.2 L469.1,619.8 Z" fill="none" stroke="#8b0000" stroke-width="2.1"/>
<path d="M492.5,631.5 L501.9,640.9 L492.5,650.3 L483.1,640.9 Z" fill="none" stroke="#8b0000" stroke-width="2.1"/>
<path d="M506,583.9 L515.4,593.3 L506,602.7 L496.6,593.3 Z" fill="none" stroke="#8b0000" stroke-width="2.1"/>
<path d="M519.4,596.6 L528.8,606 L519.4,615.4 L510,606 Z" fill="none" stroke="#8b0000" stroke-width="2.1"/>
<path d="M533.6,559.1 L543,568.5 L533.6,577.9 L524.2,568.5 Z" fill="none" stroke="#8b0000" stroke-width="2.1"/>
<path d="M547.4,608.3 L556.8,617.7 L547.4,627.1 L538,617.7 Z" fill="none" stroke="#8b0000" stroke-width="2.1"/>
<path d="M560.7,557 L570.1,566.4 L560.7,575.8 L551.3,566.4 Z" fill="none" stroke="#8b0000" stroke-width="2.1"/>
<path d="M574.7,539.7 L584.1,549.1 L574.7,558.5 L565.3,549.1 Z" fill="none" stroke="#8b0000" stroke-width="2.1"/>
<path d="M587.6,566 L597,575.4 L587.6,584.8 L578.2,575.4 Z" fill="none" stroke="#8b0000" stroke-width="2.1"/>
<path d="M602.1,609.9 L611.5,619.3 L602.1,628.7 L592.7,619.3 Z" fill="none" stroke="#8b0000" stroke-width="2.1"/>
<path d="M615.6,524.9 L625,534.3 L615.6,543.7 L606.2,534.3 Z" fill="none" stroke="#8b0000" stroke-width="2.1"/>
<path d="M629.3,452.3 L638.7,461.7 L629.3,471.1 L619.9,461.7 Z" fill="none" stroke="#8b0000" stroke-width="2.1"/>
<path d="M643.3,524 L652.7,533.4 L643.3,542.8 L633.9,533.4 Z" fill="none" stroke="#8b0000" stroke-width="2.1"/>
<path d="M657,510.5 L666.4,519.9 L657,529.3 L647.6,519.9 Z" fill="none" stroke="#8b0000" stroke-width="2.1"/>
<path d="M670.7,525.7 L680.1,535.1 L670.7,544.5 L661.3,535.1 Z" fill="none" stroke="#8b0000" stroke-width="2.1"/>
<path d="M684.2,476.8 L693.6,486.2 L684.2,495.6 L674.8,486.2 Z" fill="none" stroke="#8b0000" stroke-width="2.1"/>
<path d="M697.9,262.9 L707.3,272.3 L697.9,281.7 L688.5,272.3 Z" fill="none" stroke="#8b0000" stroke-width="2.1"/>
<path d="M711.9,528.8 L721.3,538.2 L711.9,547.6 L702.5,538.2 Z" fill="none" stroke="#8b0000" stroke-width="2.1"/>
<path d="M725.6,475.1 L735,484.5 L725.6,493.9 L716.2,484.5 Z" fill="none" stroke="#8b0000" stroke-width="2.1"/>
<path d="M739.3,495.6 L748.7,505 L739.3,514.4 L729.9,505 Z" fill="none" stroke="#8b0000" stroke-width="2.1"/>
<path d="M752.6,412.6 L762,422 L752.6,431.4 L743.2,422 Z" fill="none" stroke="#8b0000" stroke-width="2.1"/>
<path d="M766,423.4 L775.4,432.8 L766,442.2 L756.6,432.8 Z" fill="none" stroke="#8b0000" stroke-width="2.1"/>
<path d="M780.2,433.8 L789.6,443.2 L780.2,452.6 L770.8,443.2 Z" fill="none" stroke="#8b0000" stroke-width="2.1"/>
<path d="M794.2,424.1 L803.6,433.5 L794.2,442.9 L784.8,433.5 Z" fill="none" stroke="#8b0000" stroke-width="2.1"/>
</g>
<rect x="91.8" y="246.9" width="772.9" height="576.9" fill="none" stroke="#000" stroke-width="1.9"/>
<line x1="320.7" y1="823.8" x2="320.7" y2="831.1" stroke="#000" stroke-width="1.7"/><text x="302.84" y="856.6" font-size="20.8">10</text><text x="330.3" y="846.7" font-size="14.56">1</text><line x1="554.5" y1="823.8" x2="554.5" y2="831.1" stroke="#000" stroke-width="1.7"/><text x="536.64" y="856.6" font-size="20.8">10</text><text x="564.1" y="846.7" font-size="14.56">2</text><line x1="788.3" y1="823.8" x2="788.3" y2="831.1" stroke="#000" stroke-width="1.7"/><text x="770.44" y="856.6" font-size="20.8">10</text><text x="797.9" y="846.7" font-size="14.56">3</text><line x1="157.28" y1="823.8" x2="157.28" y2="828" stroke="#000" stroke-width="1.25"/><line x1="198.45" y1="823.8" x2="198.45" y2="828" stroke="#000" stroke-width="1.25"/><line x1="227.66" y1="823.8" x2="227.66" y2="828" stroke="#000" stroke-width="1.25"/><line x1="250.32" y1="823.8" x2="250.32" y2="828" stroke="#000" stroke-width="1.25"/><line x1="268.83" y1="823.8" x2="268.83" y2="828" stroke="#000" stroke-width="1.25"/><line x1="284.48" y1="823.8" x2="284.48" y2="828" stroke="#000" stroke-width="1.25"/><line x1="298.04" y1="823.8" x2="298.04" y2="828" stroke="#000" stroke-width="1.25"/><line x1="310" y1="823.8" x2="310" y2="828" stroke="#000" stroke-width="1.25"/><line x1="391.08" y1="823.8" x2="391.08" y2="828" stroke="#000" stroke-width="1.25"/><line x1="432.25" y1="823.8" x2="432.25" y2="828" stroke="#000" stroke-width="1.25"/><line x1="461.46" y1="823.8" x2="461.46" y2="828" stroke="#000" stroke-width="1.25"/><line x1="484.12" y1="823.8" x2="484.12" y2="828" stroke="#000" stroke-width="1.25"/><line x1="502.63" y1="823.8" x2="502.63" y2="828" stroke="#000" stroke-width="1.25"/><line x1="518.28" y1="823.8" x2="518.28" y2="828" stroke="#000" stroke-width="1.25"/><line x1="531.84" y1="823.8" x2="531.84" y2="828" stroke="#000" stroke-width="1.25"/><line x1="543.8" y1="823.8" x2="543.8" y2="828" stroke="#000" stroke-width="1.25"/><line x1="624.88" y1="823.8" x2="624.88" y2="828" stroke="#000" stroke-width="1.25"/><line x1="666.05" y1="823.8" x2="666.05" y2="828" stroke="#000" stroke-width="1.25"/><line x1="695.26" y1="823.8" x2="695.26" y2="828" stroke="#000" stroke-width="1.25"/><line x1="717.92" y1="823.8" x2="717.92" y2="828" stroke="#000" stroke-width="1.25"/><line x1="736.43" y1="823.8" x2="736.43" y2="828" stroke="#000" stroke-width="1.25"/><line x1="752.08" y1="823.8" x2="752.08" y2="828" stroke="#000" stroke-width="1.25"/><line x1="765.64" y1="823.8" x2="765.64" y2="828" stroke="#000" stroke-width="1.25"/><line x1="777.6" y1="823.8" x2="777.6" y2="828" stroke="#000" stroke-width="1.25"/><line x1="858.68" y1="823.8" x2="858.68" y2="828" stroke="#000" stroke-width="1.25"/><line x1="84.5" y1="750.9" x2="91.8" y2="750.9" stroke="#000" stroke-width="1.7"/><text x="75.9" y="759.3" font-size="20.8" text-anchor="end" fill="#000">2.5</text><line x1="84.5" y1="675.9" x2="91.8" y2="675.9" stroke="#000" stroke-width="1.7"/><text x="75.9" y="684.3" font-size="20.8" text-anchor="end" fill="#000">3.0</text><line x1="84.5" y1="600.9" x2="91.8" y2="600.9" stroke="#000" stroke-width="1.7"/><text x="75.9" y="609.3" font-size="20.8" text-anchor="end" fill="#000">3.5</text><line x1="84.5" y1="525.9" x2="91.8" y2="525.9" stroke="#000" stroke-width="1.7"/><text x="75.9" y="534.3" font-size="20.8" text-anchor="end" fill="#000">4.0</text><line x1="84.5" y1="450.9" x2="91.8" y2="450.9" stroke="#000" stroke-width="1.7"/><text x="75.9" y="459.3" font-size="20.8" text-anchor="end" fill="#000">4.5</text><line x1="84.5" y1="375.9" x2="91.8" y2="375.9" stroke="#000" stroke-width="1.7"/><text x="75.9" y="384.3" font-size="20.8" text-anchor="end" fill="#000">5.0</text><line x1="84.5" y1="300.9" x2="91.8" y2="300.9" stroke="#000" stroke-width="1.7"/><text x="75.9" y="309.3" font-size="20.8" text-anchor="end" fill="#000">5.5</text><line x1="864.7" y1="811.9" x2="872" y2="811.9" stroke="#000" stroke-width="1.7"/><text x="880.2" y="822" font-size="27.8" text-anchor="start" fill="#8b0000" color="#8b0000">0.10</text><line x1="864.7" y1="727.88" x2="872" y2="727.88" stroke="#000" stroke-width="1.7"/><text x="880.2" y="737.98" font-size="27.8" text-anchor="start" fill="#8b0000" color="#8b0000">0.12</text><line x1="864.7" y1="643.86" x2="872" y2="643.86" stroke="#000" stroke-width="1.7"/><text x="880.2" y="653.96" font-size="27.8" text-anchor="start" fill="#8b0000" color="#8b0000">0.14</text><line x1="864.7" y1="559.85" x2="872" y2="559.85" stroke="#000" stroke-width="1.7"/><text x="880.2" y="569.95" font-size="27.8" text-anchor="start" fill="#8b0000" color="#8b0000">0.16</text><line x1="864.7" y1="475.83" x2="872" y2="475.83" stroke="#000" stroke-width="1.7"/><text x="880.2" y="485.93" font-size="27.8" text-anchor="start" fill="#8b0000" color="#8b0000">0.18</text><line x1="864.7" y1="391.82" x2="872" y2="391.82" stroke="#000" stroke-width="1.7"/><text x="880.2" y="401.92" font-size="27.8" text-anchor="start" fill="#8b0000" color="#8b0000">0.20</text><line x1="864.7" y1="307.8" x2="872" y2="307.8" stroke="#000" stroke-width="1.7"/><text x="880.2" y="317.9" font-size="27.8" text-anchor="start" fill="#8b0000" color="#8b0000">0.22</text>
<text x="479.25" y="897.8" font-size="32.5" text-anchor="middle">Size of sub-volumes (mm<tspan font-size="22.75" dy="-10.4">3</tspan><tspan dx="2" dy="10.4">)</tspan></text>
<text transform="translate(26.3,535.35) rotate(-90)" x="0" y="0" font-size="32.5" text-anchor="middle">Maximal positive failure stress (MPa)</text>
<text transform="translate(974.1,536.35) rotate(-90)" x="0" y="0" font-size="32.5" text-anchor="middle" fill="#8b0000" color="#8b0000">Mean equivalent radius (mm)</text>
</g>
<g>
<line x1="1140.53" y1="248.4" x2="1140.53" y2="824.1" stroke="#b0b0b0" stroke-opacity="0.38" stroke-width="1.2"/>
<line x1="1150.25" y1="248.4" x2="1150.25" y2="824.1" stroke="#b0b0b0" stroke-opacity="0.38" stroke-width="1.2"/>
<line x1="1158.83" y1="248.4" x2="1158.83" y2="824.1" stroke="#b0b0b0" stroke-opacity="0.38" stroke-width="1.2"/>
<line x1="1216.97" y1="248.4" x2="1216.97" y2="824.1" stroke="#b0b0b0" stroke-opacity="0.38" stroke-width="1.2"/>
<line x1="1246.49" y1="248.4" x2="1246.49" y2="824.1" stroke="#b0b0b0" stroke-opacity="0.38" stroke-width="1.2"/>
<line x1="1267.44" y1="248.4" x2="1267.44" y2="824.1" stroke="#b0b0b0" stroke-opacity="0.38" stroke-width="1.2"/>
<line x1="1283.68" y1="248.4" x2="1283.68" y2="824.1" stroke="#b0b0b0" stroke-opacity="0.38" stroke-width="1.2"/>
<line x1="1296.96" y1="248.4" x2="1296.96" y2="824.1" stroke="#b0b0b0" stroke-opacity="0.38" stroke-width="1.2"/>
<line x1="1308.18" y1="248.4" x2="1308.18" y2="824.1" stroke="#b0b0b0" stroke-opacity="0.38" stroke-width="1.2"/>
<line x1="1317.9" y1="248.4" x2="1317.9" y2="824.1" stroke="#b0b0b0" stroke-opacity="0.38" stroke-width="1.2"/>
<line x1="1326.48" y1="248.4" x2="1326.48" y2="824.1" stroke="#b0b0b0" stroke-opacity="0.38" stroke-width="1.2"/>
<line x1="1384.62" y1="248.4" x2="1384.62" y2="824.1" stroke="#b0b0b0" stroke-opacity="0.38" stroke-width="1.2"/>
<line x1="1414.14" y1="248.4" x2="1414.14" y2="824.1" stroke="#b0b0b0" stroke-opacity="0.38" stroke-width="1.2"/>
<line x1="1435.09" y1="248.4" x2="1435.09" y2="824.1" stroke="#b0b0b0" stroke-opacity="0.38" stroke-width="1.2"/>
<line x1="1451.33" y1="248.4" x2="1451.33" y2="824.1" stroke="#b0b0b0" stroke-opacity="0.38" stroke-width="1.2"/>
<line x1="1464.61" y1="248.4" x2="1464.61" y2="824.1" stroke="#b0b0b0" stroke-opacity="0.38" stroke-width="1.2"/>
<line x1="1475.83" y1="248.4" x2="1475.83" y2="824.1" stroke="#b0b0b0" stroke-opacity="0.38" stroke-width="1.2"/>
<line x1="1485.55" y1="248.4" x2="1485.55" y2="824.1" stroke="#b0b0b0" stroke-opacity="0.38" stroke-width="1.2"/>
<line x1="1494.13" y1="248.4" x2="1494.13" y2="824.1" stroke="#b0b0b0" stroke-opacity="0.38" stroke-width="1.2"/>
<line x1="1552.27" y1="248.4" x2="1552.27" y2="824.1" stroke="#b0b0b0" stroke-opacity="0.38" stroke-width="1.2"/>
<line x1="1581.79" y1="248.4" x2="1581.79" y2="824.1" stroke="#b0b0b0" stroke-opacity="0.38" stroke-width="1.2"/>
<line x1="1602.74" y1="248.4" x2="1602.74" y2="824.1" stroke="#b0b0b0" stroke-opacity="0.38" stroke-width="1.2"/>
<line x1="1618.98" y1="248.4" x2="1618.98" y2="824.1" stroke="#b0b0b0" stroke-opacity="0.38" stroke-width="1.2"/>
<line x1="1632.26" y1="248.4" x2="1632.26" y2="824.1" stroke="#b0b0b0" stroke-opacity="0.38" stroke-width="1.2"/>
<line x1="1643.48" y1="248.4" x2="1643.48" y2="824.1" stroke="#b0b0b0" stroke-opacity="0.38" stroke-width="1.2"/>
<line x1="1653.2" y1="248.4" x2="1653.2" y2="824.1" stroke="#b0b0b0" stroke-opacity="0.38" stroke-width="1.2"/>
<line x1="1661.78" y1="248.4" x2="1661.78" y2="824.1" stroke="#b0b0b0" stroke-opacity="0.38" stroke-width="1.2"/>
<line x1="1719.92" y1="248.4" x2="1719.92" y2="824.1" stroke="#b0b0b0" stroke-opacity="0.38" stroke-width="1.2"/>
<line x1="1749.44" y1="248.4" x2="1749.44" y2="824.1" stroke="#b0b0b0" stroke-opacity="0.38" stroke-width="1.2"/>
<line x1="1770.39" y1="248.4" x2="1770.39" y2="824.1" stroke="#b0b0b0" stroke-opacity="0.38" stroke-width="1.2"/>
<line x1="1786.63" y1="248.4" x2="1786.63" y2="824.1" stroke="#b0b0b0" stroke-opacity="0.38" stroke-width="1.2"/>
<line x1="1799.91" y1="248.4" x2="1799.91" y2="824.1" stroke="#b0b0b0" stroke-opacity="0.38" stroke-width="1.2"/>
<line x1="1811.13" y1="248.4" x2="1811.13" y2="824.1" stroke="#b0b0b0" stroke-opacity="0.38" stroke-width="1.2"/>
<line x1="1820.85" y1="248.4" x2="1820.85" y2="824.1" stroke="#b0b0b0" stroke-opacity="0.38" stroke-width="1.2"/>
<line x1="1829.43" y1="248.4" x2="1829.43" y2="824.1" stroke="#b0b0b0" stroke-opacity="0.38" stroke-width="1.2"/>
<line x1="1887.57" y1="248.4" x2="1887.57" y2="824.1" stroke="#b0b0b0" stroke-opacity="0.38" stroke-width="1.2"/>
<line x1="1166.5" y1="248.4" x2="1166.5" y2="824.1" stroke="#b0b0b0" stroke-opacity="0.6" stroke-width="1.7"/>
<line x1="1334.15" y1="248.4" x2="1334.15" y2="824.1" stroke="#b0b0b0" stroke-opacity="0.6" stroke-width="1.7"/>
<line x1="1501.8" y1="248.4" x2="1501.8" y2="824.1" stroke="#b0b0b0" stroke-opacity="0.6" stroke-width="1.7"/>
<line x1="1669.45" y1="248.4" x2="1669.45" y2="824.1" stroke="#b0b0b0" stroke-opacity="0.6" stroke-width="1.7"/>
<line x1="1837.1" y1="248.4" x2="1837.1" y2="824.1" stroke="#b0b0b0" stroke-opacity="0.6" stroke-width="1.7"/>
<line x1="1131.2" y1="758.5" x2="1902.8" y2="758.5" stroke="#b0b0b0" stroke-opacity="0.6" stroke-width="1.7"/>
<line x1="1131.2" y1="686.58" x2="1902.8" y2="686.58" stroke="#b0b0b0" stroke-opacity="0.6" stroke-width="1.7"/>
<line x1="1131.2" y1="614.66" x2="1902.8" y2="614.66" stroke="#b0b0b0" stroke-opacity="0.6" stroke-width="1.7"/>
<line x1="1131.2" y1="542.74" x2="1902.8" y2="542.74" stroke="#b0b0b0" stroke-opacity="0.6" stroke-width="1.7"/>
<line x1="1131.2" y1="470.82" x2="1902.8" y2="470.82" stroke="#b0b0b0" stroke-opacity="0.6" stroke-width="1.7"/>
<line x1="1131.2" y1="398.9" x2="1902.8" y2="398.9" stroke="#b0b0b0" stroke-opacity="0.6" stroke-width="1.7"/>
<line x1="1131.2" y1="326.98" x2="1902.8" y2="326.98" stroke="#b0b0b0" stroke-opacity="0.6" stroke-width="1.7"/>
<line x1="1131.2" y1="255.06" x2="1902.8" y2="255.06" stroke="#b0b0b0" stroke-opacity="0.6" stroke-width="1.7"/>
<g clip-path="url(#clipR)">
<circle cx="1684.4" cy="766.4" r="5.6" fill="#ff0000"/>
<path d="M1181.6,449.5 L1177.4,457.9 L1185.8,457.9 Z" fill="#0000ff" stroke="#0000ff" stroke-width="1" stroke-linejoin="miter"/>
<path d="M1199.2,556.3 L1195,564.7 L1203.4,564.7 Z" fill="#0000ff" stroke="#0000ff" stroke-width="1" stroke-linejoin="miter"/>
<path d="M1216.5,621 L1212.3,629.4 L1220.7,629.4 Z" fill="#0000ff" stroke="#0000ff" stroke-width="1" stroke-linejoin="miter"/>
<path d="M1234.3,593.6 L1230.1,602 L1238.5,602 Z" fill="#0000ff" stroke="#0000ff" stroke-width="1" stroke-linejoin="miter"/>
<path d="M1252,656.1 L1247.8,664.5 L1256.2,664.5 Z" fill="#0000ff" stroke="#0000ff" stroke-width="1" stroke-linejoin="miter"/>
<path d="M1269.4,667 L1265.2,675.4 L1273.6,675.4 Z" fill="#0000ff" stroke="#0000ff" stroke-width="1" stroke-linejoin="miter"/>
<path d="M1287.7,653.3 L1283.5,661.7 L1291.9,661.7 Z" fill="#0000ff" stroke="#0000ff" stroke-width="1" stroke-linejoin="miter"/>
<path d="M1304.9,673.8 L1300.7,682.2 L1309.1,682.2 Z" fill="#0000ff" stroke="#0000ff" stroke-width="1" stroke-linejoin="miter"/>
<path d="M1322.6,669.8 L1318.4,678.2 L1326.8,678.2 Z" fill="#0000ff" stroke="#0000ff" stroke-width="1" stroke-linejoin="miter"/>
<path d="M1339.8,700.4 L1335.6,708.8 L1344,708.8 Z" fill="#0000ff" stroke="#0000ff" stroke-width="1" stroke-linejoin="miter"/>
<path d="M1357.4,679.8 L1353.2,688.2 L1361.6,688.2 Z" fill="#0000ff" stroke="#0000ff" stroke-width="1" stroke-linejoin="miter"/>
<path d="M1375.3,688.1 L1371.1,696.5 L1379.5,696.5 Z" fill="#0000ff" stroke="#0000ff" stroke-width="1" stroke-linejoin="miter"/>
<path d="M1393,692.8 L1388.8,701.2 L1397.2,701.2 Z" fill="#0000ff" stroke="#0000ff" stroke-width="1" stroke-linejoin="miter"/>
<path d="M1410.6,713.1 L1406.4,721.5 L1414.8,721.5 Z" fill="#0000ff" stroke="#0000ff" stroke-width="1" stroke-linejoin="miter"/>
<path d="M1424.2,712 L1420,720.4 L1428.4,720.4 Z" fill="#008000" stroke="#008000" stroke-width="1" stroke-linejoin="miter"/>
<path d="M1447,705.3 L1442.8,713.7 L1451.2,713.7 Z" fill="#008000" stroke="#008000" stroke-width="1" stroke-linejoin="miter"/>
<path d="M1469.7,717.3 L1465.5,725.7 L1473.9,725.7 Z" fill="#008000" stroke="#008000" stroke-width="1" stroke-linejoin="miter"/>
<path d="M1491.9,738.9 L1487.7,747.3 L1496.1,747.3 Z" fill="#008000" stroke="#008000" stroke-width="1" stroke-linejoin="miter"/>
<path d="M1514.5,737.8 L1510.3,746.2 L1518.7,746.2 Z" fill="#008000" stroke="#008000" stroke-width="1" stroke-linejoin="miter"/>
<path d="M1536.8,740.4 L1532.6,748.8 L1541,748.8 Z" fill="#008000" stroke="#008000" stroke-width="1" stroke-linejoin="miter"/>
<path d="M1559.1,746.9 L1554.9,755.3 L1563.3,755.3 Z" fill="#008000" stroke="#008000" stroke-width="1" stroke-linejoin="miter"/>
<path d="M1582,756.1 L1577.8,764.5 L1586.2,764.5 Z" fill="#008000" stroke="#008000" stroke-width="1" stroke-linejoin="miter"/>
<path d="M1604.6,757.8 L1600.4,766.2 L1608.8,766.2 Z" fill="#008000" stroke="#008000" stroke-width="1" stroke-linejoin="miter"/>
<path d="M1626.8,761.6 L1622.6,770 L1631,770 Z" fill="#008000" stroke="#008000" stroke-width="1" stroke-linejoin="miter"/>
<path d="M1649.3,766.7 L1645.1,775.1 L1653.5,775.1 Z" fill="#008000" stroke="#008000" stroke-width="1" stroke-linejoin="miter"/>
<path d="M1671.5,765 L1667.3,773.4 L1675.7,773.4 Z" fill="#008000" stroke="#008000" stroke-width="1" stroke-linejoin="miter"/>
<path d="M1694,765.2 L1689.8,773.6 L1698.2,773.6 Z" fill="#008000" stroke="#008000" stroke-width="1" stroke-linejoin="miter"/>
<path d="M1716.7,772 L1712.5,780.4 L1720.9,780.4 Z" fill="#008000" stroke="#008000" stroke-width="1" stroke-linejoin="miter"/>
<path d="M1739.6,771 L1735.4,779.4 L1743.8,779.4 Z" fill="#008000" stroke="#008000" stroke-width="1" stroke-linejoin="miter"/>
<path d="M1761.9,774.6 L1757.7,783 L1766.1,783 Z" fill="#008000" stroke="#008000" stroke-width="1" stroke-linejoin="miter"/>
<path d="M1181.57,595.97 L1187.15,599.31 L1192.72,602.61 L1198.3,605.86 L1203.87,609.06 L1209.45,612.21 L1215.02,615.33 L1220.59,618.39 L1226.17,621.42 L1231.74,624.4 L1237.32,627.34 L1242.89,630.23 L1248.47,633.09 L1254.04,635.9 L1259.62,638.67 L1265.19,641.41 L1270.76,644.1 L1276.34,646.76 L1281.91,649.38 L1287.49,651.96 L1293.06,654.51 L1298.64,657.02 L1304.21,659.49 L1309.79,661.93 L1315.36,664.33 L1320.94,666.7 L1326.51,669.03 L1332.08,671.33 L1337.66,673.6 L1343.23,675.84 L1348.81,678.04 L1354.38,680.22 L1359.96,682.36 L1365.53,684.47 L1371.11,686.55 L1376.68,688.6 L1382.26,690.62 L1387.83,692.62 L1393.4,694.58 L1398.98,696.52 L1404.55,698.43 L1410.13,700.31 L1415.7,702.17 L1421.28,704 L1426.85,705.8 L1432.43,707.58 L1438,709.33 L1443.57,711.06 L1449.15,712.76 L1454.72,714.44 L1460.3,716.09 L1465.87,717.72 L1471.45,719.33 L1477.02,720.91 L1482.6,722.47 L1488.17,724.01 L1493.75,725.53 L1499.32,727.03 L1504.89,728.5 L1510.47,729.95 L1516.04,731.39 L1521.62,732.8 L1527.19,734.19 L1532.77,735.56 L1538.34,736.92 L1543.92,738.25 L1549.49,739.56 L1555.06,740.86 L1560.64,742.14 L1566.21,743.4 L1571.79,744.64 L1577.36,745.86 L1582.94,747.07 L1588.51,748.25 L1594.09,749.43 L1599.66,750.58 L1605.24,751.72 L1610.81,752.84 L1616.38,753.95 L1621.96,755.04 L1627.53,756.11 L1633.11,757.17 L1638.68,758.22 L1644.26,759.25 L1649.83,760.26 L1655.41,761.26 L1660.98,762.25 L1666.56,763.22 L1672.13,764.18 L1677.7,765.12 L1683.28,766.06 L1688.85,766.97 L1694.43,767.88 L1700,768.77 L1705.58,769.65 L1711.15,770.52 L1716.73,771.37 L1722.3,772.21 L1727.87,773.04 L1733.45,773.86 L1739.02,774.67 L1744.6,775.46 L1750.17,776.25 L1755.75,777.02 L1761.32,777.78 L1766.9,778.53 L1772.47,779.27 L1778.05,780 L1783.62,780.72 L1789.19,781.43 L1794.77,782.13 L1800.34,782.82 L1805.92,783.49 L1811.49,784.16 L1817.07,784.82 L1822.64,785.47 L1828.22,786.11 L1833.79,786.75 L1839.37,787.37 L1844.94,787.98 L1850.51,788.59" fill="none" stroke="#000" stroke-width="3.125" stroke-linecap="square"/>
<path d="M1181.57,544.62 L1187.15,548.7 L1192.72,552.72 L1198.3,556.68 L1203.87,560.58 L1209.45,564.43 L1215.02,568.22 L1220.59,571.96 L1226.17,575.65 L1231.74,579.28 L1237.32,582.86 L1242.89,586.39 L1248.47,589.87 L1254.04,593.3 L1259.62,596.68 L1265.19,600.02 L1270.76,603.3 L1276.34,606.54 L1281.91,609.73 L1287.49,612.88 L1293.06,615.98 L1298.64,619.04 L1304.21,622.05 L1309.79,625.03 L1315.36,627.96 L1320.94,630.84 L1326.51,633.69 L1332.08,636.49 L1337.66,639.26 L1343.23,641.99 L1348.81,644.67 L1354.38,647.32 L1359.96,649.93 L1365.53,652.51 L1371.11,655.04 L1376.68,657.54 L1382.26,660.01 L1387.83,662.44 L1393.4,664.84 L1398.98,667.2 L1404.55,669.52 L1410.13,671.82 L1415.7,674.08 L1421.28,676.31 L1426.85,678.51 L1432.43,680.67 L1438,682.81 L1443.57,684.91 L1449.15,686.99 L1454.72,689.04 L1460.3,691.05 L1465.87,693.04 L1471.45,695 L1477.02,696.93 L1482.6,698.83 L1488.17,700.71 L1493.75,702.56 L1499.32,704.38 L1504.89,706.18 L1510.47,707.95 L1516.04,709.7 L1521.62,711.42 L1527.19,713.12 L1532.77,714.79 L1538.34,716.44 L1543.92,718.06 L1549.49,719.67 L1555.06,721.25 L1560.64,722.8 L1566.21,724.34 L1571.79,725.85 L1577.36,727.34 L1582.94,728.81 L1588.51,730.26 L1594.09,731.69 L1599.66,733.1 L1605.24,734.48 L1610.81,735.85 L1616.38,737.2 L1621.96,738.53 L1627.53,739.84 L1633.11,741.13 L1638.68,742.41 L1644.26,743.66 L1649.83,744.9 L1655.41,746.12 L1660.98,747.32 L1666.56,748.5 L1672.13,749.67 L1677.7,750.82 L1683.28,751.96 L1688.85,753.08 L1694.43,754.18 L1700,755.27 L1705.58,756.34 L1711.15,757.4 L1716.73,758.44 L1722.3,759.46 L1727.87,760.48 L1733.45,761.47 L1739.02,762.46 L1744.6,763.43 L1750.17,764.38 L1755.75,765.32 L1761.32,766.25 L1766.9,767.17 L1772.47,768.07 L1778.05,768.96 L1783.62,769.83 L1789.19,770.7 L1794.77,771.55 L1800.34,772.39 L1805.92,773.22 L1811.49,774.03 L1817.07,774.84 L1822.64,775.63 L1828.22,776.41 L1833.79,777.18 L1839.37,777.94 L1844.94,778.69 L1850.51,779.43" fill="none" stroke="#808080" stroke-width="3.125" stroke-dasharray="11.56 5"/>
<path d="M1181.57,647.31 L1187.15,649.92 L1192.72,652.5 L1198.3,655.03 L1203.87,657.54 L1209.45,660 L1215.02,662.43 L1220.59,664.83 L1226.17,667.19 L1231.74,669.52 L1237.32,671.81 L1242.89,674.07 L1248.47,676.3 L1254.04,678.5 L1259.62,680.67 L1265.19,682.8 L1270.76,684.91 L1276.34,686.98 L1281.91,689.03 L1287.49,691.04 L1293.06,693.03 L1298.64,694.99 L1304.21,696.92 L1309.79,698.83 L1315.36,700.7 L1320.94,702.55 L1326.51,704.38 L1332.08,706.17 L1337.66,707.95 L1343.23,709.69 L1348.81,711.41 L1354.38,713.11 L1359.96,714.78 L1365.53,716.43 L1371.11,718.06 L1376.68,719.66 L1382.26,721.24 L1387.83,722.8 L1393.4,724.33 L1398.98,725.84 L1404.55,727.34 L1410.13,728.81 L1415.7,730.26 L1421.28,731.68 L1426.85,733.09 L1432.43,734.48 L1438,735.85 L1443.57,737.2 L1449.15,738.53 L1454.72,739.84 L1460.3,741.13 L1465.87,742.4 L1471.45,743.66 L1477.02,744.89 L1482.6,746.11 L1488.17,747.32 L1493.75,748.5 L1499.32,749.67 L1504.89,750.82 L1510.47,751.96 L1516.04,753.07 L1521.62,754.18 L1527.19,755.26 L1532.77,756.34 L1538.34,757.39 L1543.92,758.43 L1549.49,759.46 L1555.06,760.47 L1560.64,761.47 L1566.21,762.45 L1571.79,763.42 L1577.36,764.38 L1582.94,765.32 L1588.51,766.25 L1594.09,767.16 L1599.66,768.07 L1605.24,768.95 L1610.81,769.83 L1616.38,770.7 L1621.96,771.55 L1627.53,772.39 L1633.11,773.21 L1638.68,774.03 L1644.26,774.83 L1649.83,775.63 L1655.41,776.41 L1660.98,777.18 L1666.56,777.94 L1672.13,778.69 L1677.7,779.42 L1683.28,780.15 L1688.85,780.87 L1694.43,781.57 L1700,782.27 L1705.58,782.96 L1711.15,783.63 L1716.73,784.3 L1722.3,784.96 L1727.87,785.61 L1733.45,786.25 L1739.02,786.88 L1744.6,787.5 L1750.17,788.11 L1755.75,788.71 L1761.32,789.31 L1766.9,789.89 L1772.47,790.47 L1778.05,791.04 L1783.62,791.6 L1789.19,792.16 L1794.77,792.7 L1800.34,793.24 L1805.92,793.77 L1811.49,794.29 L1817.07,794.81 L1822.64,795.32 L1828.22,795.82 L1833.79,796.31 L1839.37,796.8 L1844.94,797.28 L1850.51,797.75" fill="none" stroke="#808080" stroke-width="3.125" stroke-dasharray="11.56 5"/>
<line x1="1181.6" y1="274.3" x2="1181.6" y2="634.4" stroke="#0000ff" stroke-opacity="1.0" stroke-width="1.5"/>
<line x1="1199.2" y1="436.6" x2="1199.2" y2="682.9" stroke="#0000ff" stroke-opacity="0.18" stroke-width="1.5"/>
<line x1="1216.5" y1="523.2" x2="1216.5" y2="727.2" stroke="#0000ff" stroke-opacity="0.55" stroke-width="1.5"/>
<line x1="1234.3" y1="516.5" x2="1234.3" y2="678.6" stroke="#0000ff" stroke-opacity="0.5" stroke-width="1.5"/>
<line x1="1252" y1="604.5" x2="1252" y2="716.2" stroke="#0000ff" stroke-opacity="0.55" stroke-width="1.5"/>
<line x1="1269.4" y1="631.9" x2="1269.4" y2="710.4" stroke="#0000ff" stroke-opacity="0.2" stroke-width="1.5"/>
<line x1="1287.7" y1="616.1" x2="1287.7" y2="698.6" stroke="#0000ff" stroke-opacity="0.08" stroke-width="1.5"/>
<line x1="1304.9" y1="638.3" x2="1304.9" y2="717.3" stroke="#0000ff" stroke-opacity="0.95" stroke-width="1.5"/>
<line x1="1322.6" y1="635.5" x2="1322.6" y2="711.9" stroke="#0000ff" stroke-opacity="0.9" stroke-width="1.5"/>
<line x1="1339.8" y1="662.4" x2="1339.8" y2="746.5" stroke="#0000ff" stroke-opacity="0.4" stroke-width="1.5"/>
<line x1="1357.4" y1="644" x2="1357.4" y2="723.3" stroke="#0000ff" stroke-opacity="0.4" stroke-width="1.5"/>
<line x1="1375.3" y1="657.7" x2="1375.3" y2="726.6" stroke="#0000ff" stroke-opacity="0.35" stroke-width="1.5"/>
<line x1="1393" y1="661.3" x2="1393" y2="732" stroke="#0000ff" stroke-opacity="0.75" stroke-width="1.5"/>
<line x1="1410.6" y1="684.3" x2="1410.6" y2="750" stroke="#0000ff" stroke-opacity="0.05" stroke-width="1.5"/>
<line x1="1424.2" y1="673.8" x2="1424.2" y2="758" stroke="#008000" stroke-opacity="0.55" stroke-width="1.5"/>
<line x1="1447" y1="675.1" x2="1447" y2="745.3" stroke="#008000" stroke-opacity="0.55" stroke-width="1.5"/>
<line x1="1469.7" y1="682.8" x2="1469.7" y2="758.6" stroke="#008000" stroke-opacity="0.1" stroke-width="1.5"/>
<line x1="1491.9" y1="716.1" x2="1491.9" y2="769.8" stroke="#008000" stroke-opacity="0.85" stroke-width="1.5"/>
<line x1="1514.5" y1="718.1" x2="1514.5" y2="765.9" stroke="#008000" stroke-opacity="0.05" stroke-width="1.5"/>
<line x1="1536.8" y1="721.2" x2="1536.8" y2="767.6" stroke="#008000" stroke-opacity="0.8" stroke-width="1.5"/>
<line x1="1559.1" y1="735.9" x2="1559.1" y2="766.5" stroke="#008000" stroke-opacity="0.15" stroke-width="1.5"/>
<line x1="1582" y1="749.5" x2="1582" y2="770.8" stroke="#008000" stroke-opacity="0.25" stroke-width="1.5"/>
<line x1="1604.6" y1="751.3" x2="1604.6" y2="772.5" stroke="#008000" stroke-opacity="0.55" stroke-width="1.5"/>
<line x1="1626.8" y1="754.8" x2="1626.8" y2="776.9" stroke="#008000" stroke-opacity="0.6" stroke-width="1.5"/>
<line x1="1649.3" y1="761.1" x2="1649.3" y2="780.7" stroke="#008000" stroke-opacity="0.3" stroke-width="1.5"/>
<line x1="1671.5" y1="760.8" x2="1671.5" y2="777.7" stroke="#008000" stroke-opacity="0.55" stroke-width="1.5"/>
<line x1="1694" y1="761.1" x2="1694" y2="777.7" stroke="#008000" stroke-opacity="0.35" stroke-width="1.5"/>
<line x1="1716.7" y1="766.4" x2="1716.7" y2="786" stroke="#008000" stroke-opacity="0.55" stroke-width="1.5"/>
<line x1="1739.6" y1="769.4" x2="1739.6" y2="781" stroke="#008000" stroke-opacity="0.55" stroke-width="1.5"/>
<line x1="1761.9" y1="770.2" x2="1761.9" y2="787.3" stroke="#008000" stroke-opacity="0.25" stroke-width="1.5"/>
<line x1="1177.1" y1="274.3" x2="1186.1" y2="274.3" stroke="#0000ff" stroke-width="2.2"/>
<line x1="1177.1" y1="634.4" x2="1186.1" y2="634.4" stroke="#0000ff" stroke-width="2.2"/>
<line x1="1194.7" y1="436.6" x2="1203.7" y2="436.6" stroke="#0000ff" stroke-width="2.2"/>
<line x1="1194.7" y1="682.9" x2="1203.7" y2="682.9" stroke="#0000ff" stroke-width="2.2"/>
<line x1="1212" y1="523.2" x2="1221" y2="523.2" stroke="#0000ff" stroke-width="2.2"/>
<line x1="1212" y1="727.2" x2="1221" y2="727.2" stroke="#0000ff" stroke-width="2.2"/>
<line x1="1229.8" y1="516.5" x2="1238.8" y2="516.5" stroke="#0000ff" stroke-width="2.2"/>
<line x1="1229.8" y1="678.6" x2="1238.8" y2="678.6" stroke="#0000ff" stroke-width="2.2"/>
<line x1="1247.5" y1="604.5" x2="1256.5" y2="604.5" stroke="#0000ff" stroke-width="2.2"/>
<line x1="1247.5" y1="716.2" x2="1256.5" y2="716.2" stroke="#0000ff" stroke-width="2.2"/>
<line x1="1264.9" y1="631.9" x2="1273.9" y2="631.9" stroke="#0000ff" stroke-width="2.2"/>
<line x1="1264.9" y1="710.4" x2="1273.9" y2="710.4" stroke="#0000ff" stroke-width="2.2"/>
<line x1="1283.2" y1="616.1" x2="1292.2" y2="616.1" stroke="#0000ff" stroke-width="2.2"/>
<line x1="1283.2" y1="698.6" x2="1292.2" y2="698.6" stroke="#0000ff" stroke-width="2.2"/>
<line x1="1300.4" y1="638.3" x2="1309.4" y2="638.3" stroke="#0000ff" stroke-width="2.2"/>
<line x1="1300.4" y1="717.3" x2="1309.4" y2="717.3" stroke="#0000ff" stroke-width="2.2"/>
<line x1="1318.1" y1="635.5" x2="1327.1" y2="635.5" stroke="#0000ff" stroke-width="2.2"/>
<line x1="1318.1" y1="711.9" x2="1327.1" y2="711.9" stroke="#0000ff" stroke-width="2.2"/>
<line x1="1335.3" y1="662.4" x2="1344.3" y2="662.4" stroke="#0000ff" stroke-width="2.2"/>
<line x1="1335.3" y1="746.5" x2="1344.3" y2="746.5" stroke="#0000ff" stroke-width="2.2"/>
<line x1="1352.9" y1="644" x2="1361.9" y2="644" stroke="#0000ff" stroke-width="2.2"/>
<line x1="1352.9" y1="723.3" x2="1361.9" y2="723.3" stroke="#0000ff" stroke-width="2.2"/>
<line x1="1370.8" y1="657.7" x2="1379.8" y2="657.7" stroke="#0000ff" stroke-width="2.2"/>
<line x1="1370.8" y1="726.6" x2="1379.8" y2="726.6" stroke="#0000ff" stroke-width="2.2"/>
<line x1="1388.5" y1="661.3" x2="1397.5" y2="661.3" stroke="#0000ff" stroke-width="2.2"/>
<line x1="1388.5" y1="732" x2="1397.5" y2="732" stroke="#0000ff" stroke-width="2.2"/>
<line x1="1406.1" y1="684.3" x2="1415.1" y2="684.3" stroke="#0000ff" stroke-width="2.2"/>
<line x1="1406.1" y1="750" x2="1415.1" y2="750" stroke="#0000ff" stroke-width="2.2"/>
<line x1="1419.7" y1="673.8" x2="1428.7" y2="673.8" stroke="#008000" stroke-width="2.2"/>
<line x1="1419.7" y1="758" x2="1428.7" y2="758" stroke="#008000" stroke-width="2.2"/>
<line x1="1442.5" y1="675.1" x2="1451.5" y2="675.1" stroke="#008000" stroke-width="2.2"/>
<line x1="1442.5" y1="745.3" x2="1451.5" y2="745.3" stroke="#008000" stroke-width="2.2"/>
<line x1="1465.2" y1="682.8" x2="1474.2" y2="682.8" stroke="#008000" stroke-width="2.2"/>
<line x1="1465.2" y1="758.6" x2="1474.2" y2="758.6" stroke="#008000" stroke-width="2.2"/>
<line x1="1487.4" y1="716.1" x2="1496.4" y2="716.1" stroke="#008000" stroke-width="2.2"/>
<line x1="1487.4" y1="769.8" x2="1496.4" y2="769.8" stroke="#008000" stroke-width="2.2"/>
<line x1="1510" y1="718.1" x2="1519" y2="718.1" stroke="#008000" stroke-width="2.2"/>
<line x1="1510" y1="765.9" x2="1519" y2="765.9" stroke="#008000" stroke-width="2.2"/>
<line x1="1532.3" y1="721.2" x2="1541.3" y2="721.2" stroke="#008000" stroke-width="2.2"/>
<line x1="1532.3" y1="767.6" x2="1541.3" y2="767.6" stroke="#008000" stroke-width="2.2"/>
<line x1="1554.6" y1="735.9" x2="1563.6" y2="735.9" stroke="#008000" stroke-width="2.2"/>
<line x1="1554.6" y1="766.5" x2="1563.6" y2="766.5" stroke="#008000" stroke-width="2.2"/>
<line x1="1577.5" y1="749.5" x2="1586.5" y2="749.5" stroke="#008000" stroke-width="2.2"/>
<line x1="1577.5" y1="770.8" x2="1586.5" y2="770.8" stroke="#008000" stroke-width="2.2"/>
<line x1="1600.1" y1="751.3" x2="1609.1" y2="751.3" stroke="#008000" stroke-width="2.2"/>
<line x1="1600.1" y1="772.5" x2="1609.1" y2="772.5" stroke="#008000" stroke-width="2.2"/>
<line x1="1622.3" y1="754.8" x2="1631.3" y2="754.8" stroke="#008000" stroke-width="2.2"/>
<line x1="1622.3" y1="776.9" x2="1631.3" y2="776.9" stroke="#008000" stroke-width="2.2"/>
<line x1="1644.8" y1="761.1" x2="1653.8" y2="761.1" stroke="#008000" stroke-width="2.2"/>
<line x1="1644.8" y1="780.7" x2="1653.8" y2="780.7" stroke="#008000" stroke-width="2.2"/>
<line x1="1667" y1="760.8" x2="1676" y2="760.8" stroke="#008000" stroke-width="2.2"/>
<line x1="1667" y1="777.7" x2="1676" y2="777.7" stroke="#008000" stroke-width="2.2"/>
<line x1="1689.5" y1="761.1" x2="1698.5" y2="761.1" stroke="#008000" stroke-width="2.2"/>
<line x1="1689.5" y1="777.7" x2="1698.5" y2="777.7" stroke="#008000" stroke-width="2.2"/>
<line x1="1712.2" y1="766.4" x2="1721.2" y2="766.4" stroke="#008000" stroke-width="2.2"/>
<line x1="1712.2" y1="786" x2="1721.2" y2="786" stroke="#008000" stroke-width="2.2"/>
<line x1="1735.1" y1="769.4" x2="1744.1" y2="769.4" stroke="#008000" stroke-width="2.2"/>
<line x1="1735.1" y1="781" x2="1744.1" y2="781" stroke="#008000" stroke-width="2.2"/>
<line x1="1757.4" y1="770.2" x2="1766.4" y2="770.2" stroke="#008000" stroke-width="2.2"/>
<line x1="1757.4" y1="787.3" x2="1766.4" y2="787.3" stroke="#008000" stroke-width="2.2"/>
<line x1="1684.4" y1="753.2" x2="1684.4" y2="779.8" stroke="#ff0000" stroke-width="1.6"/>
<line x1="1675.9" y1="753.2" x2="1692.9" y2="753.2" stroke="#ff0000" stroke-width="2.2"/>
<line x1="1675.9" y1="779.8" x2="1692.9" y2="779.8" stroke="#ff0000" stroke-width="2.2"/>
<path d="M1181.57,588.18 L1187.15,590.58 L1192.72,592.96 L1198.3,595.31 L1203.87,597.64 L1209.45,599.94 L1215.02,602.23 L1220.59,604.49 L1226.17,606.72 L1231.74,608.94 L1237.32,611.13 L1242.89,613.31 L1248.47,615.46 L1254.04,617.58 L1259.62,619.69 L1265.19,621.78 L1270.76,623.85 L1276.34,625.89 L1281.91,627.92 L1287.49,629.92 L1293.06,631.91 L1298.64,633.87 L1304.21,635.82 L1309.79,637.75 L1315.36,639.66 L1320.94,641.55 L1326.51,643.42 L1332.08,645.27 L1337.66,647.1 L1343.23,648.92 L1348.81,650.72 L1354.38,652.49 L1359.96,654.26 L1365.53,656 L1371.11,657.73 L1376.68,659.44 L1382.26,661.13 L1387.83,662.81 L1393.4,664.47 L1398.98,666.11 L1404.55,667.74 L1410.13,669.35 L1415.7,670.95 L1421.28,672.53 L1426.85,674.09 L1432.43,675.64 L1438,677.17 L1443.57,678.69 L1449.15,680.19 L1454.72,681.68 L1460.3,683.15 L1465.87,684.61 L1471.45,686.05 L1477.02,687.48 L1482.6,688.9 L1488.17,690.3 L1493.75,691.69 L1499.32,693.06 L1504.89,694.42 L1510.47,695.77 L1516.04,697.1 L1521.62,698.42 L1527.19,699.73 L1532.77,701.03 L1538.34,702.31 L1543.92,703.58 L1549.49,704.83 L1555.06,706.08 L1560.64,707.31 L1566.21,708.53 L1571.79,709.73 L1577.36,710.93 L1582.94,712.11 L1588.51,713.28 L1594.09,714.44 L1599.66,715.59 L1605.24,716.73 L1610.81,717.86 L1616.38,718.97 L1621.96,720.08 L1627.53,721.17 L1633.11,722.25 L1638.68,723.32 L1644.26,724.38 L1649.83,725.43 L1655.41,726.47 L1660.98,727.5 L1666.56,728.52 L1672.13,729.53 L1677.7,730.53 L1683.28,731.52 L1688.85,732.5 L1694.43,733.47 L1700,734.43 L1705.58,735.38 L1711.15,736.32 L1716.73,737.25 L1722.3,738.17 L1727.87,739.09 L1733.45,739.99 L1739.02,740.89 L1744.6,741.78 L1750.17,742.65 L1755.75,743.52 L1761.32,744.38 L1766.9,745.23 L1772.47,746.08 L1778.05,746.91 L1783.62,747.74 L1789.19,748.56 L1794.77,749.37 L1800.34,750.17 L1805.92,750.97 L1811.49,751.75 L1817.07,752.53 L1822.64,753.31 L1828.22,754.07 L1833.79,754.83 L1839.37,755.57 L1844.94,756.32 L1850.51,757.05" fill="none" stroke="#000" stroke-width="3.125" stroke-dasharray="3.125 5.16"/>
<path d="M1180.9,788.5 L1190.3,797.9 L1180.9,807.3 L1171.5,797.9 Z" fill="none" stroke="#8b0000" stroke-width="2.1"/>
<path d="M1198.7,781.3 L1208.1,790.7 L1198.7,800.1 L1189.3,790.7 Z" fill="none" stroke="#8b0000" stroke-width="2.1"/>
<path d="M1216.4,753 L1225.8,762.4 L1216.4,771.8 L1207,762.4 Z" fill="none" stroke="#8b0000" stroke-width="2.1"/>
<path d="M1233.9,783.2 L1243.3,792.6 L1233.9,802 L1224.5,792.6 Z" fill="none" stroke="#8b0000" stroke-width="2.1"/>
<path d="M1251.5,749.1 L1260.9,758.5 L1251.5,767.9 L1242.1,758.5 Z" fill="none" stroke="#8b0000" stroke-width="2.1"/>
<path d="M1269,748.3 L1278.4,757.7 L1269,767.1 L1259.6,757.7 Z" fill="none" stroke="#8b0000" stroke-width="2.1"/>
<path d="M1287,753.3 L1296.4,762.7 L1287,772.1 L1277.6,762.7 Z" fill="none" stroke="#8b0000" stroke-width="2.1"/>
<path d="M1304.3,740.5 L1313.7,749.9 L1304.3,759.3 L1294.9,749.9 Z" fill="none" stroke="#8b0000" stroke-width="2.1"/>
<path d="M1322.3,745.8 L1331.7,755.2 L1322.3,764.6 L1312.9,755.2 Z" fill="none" stroke="#8b0000" stroke-width="2.1"/>
<path d="M1339.8,699.2 L1349.2,708.6 L1339.8,718 L1330.4,708.6 Z" fill="none" stroke="#8b0000" stroke-width="2.1"/>
<path d="M1357.4,727.6 L1366.8,737 L1357.4,746.4 L1348,737 Z" fill="none" stroke="#8b0000" stroke-width="2.1"/>
<path d="M1374.9,729.1 L1384.3,738.5 L1374.9,747.9 L1365.5,738.5 Z" fill="none" stroke="#8b0000" stroke-width="2.1"/>
<path d="M1392.9,722.1 L1402.3,731.5 L1392.9,740.9 L1383.5,731.5 Z" fill="none" stroke="#8b0000" stroke-width="2.1"/>
<path d="M1410.8,684 L1420.2,693.4 L1410.8,702.8 L1401.4,693.4 Z" fill="none" stroke="#8b0000" stroke-width="2.1"/>
<path d="M1424.6,671.8 L1434,681.2 L1424.6,690.6 L1415.2,681.2 Z" fill="none" stroke="#8b0000" stroke-width="2.1"/>
<path d="M1447.2,696.5 L1456.6,705.9 L1447.2,715.3 L1437.8,705.9 Z" fill="none" stroke="#8b0000" stroke-width="2.1"/>
<path d="M1469.3,667.5 L1478.7,676.9 L1469.3,686.3 L1459.9,676.9 Z" fill="none" stroke="#8b0000" stroke-width="2.1"/>
<path d="M1491.5,590.8 L1500.9,600.2 L1491.5,609.6 L1482.1,600.2 Z" fill="none" stroke="#8b0000" stroke-width="2.1"/>
<path d="M1514.1,619.5 L1523.5,628.9 L1514.1,638.3 L1504.7,628.9 Z" fill="none" stroke="#8b0000" stroke-width="2.1"/>
<path d="M1536.7,603.3 L1546.1,612.7 L1536.7,622.1 L1527.3,612.7 Z" fill="none" stroke="#8b0000" stroke-width="2.1"/>
<path d="M1559.1,579.2 L1568.5,588.6 L1559.1,598 L1549.7,588.6 Z" fill="none" stroke="#8b0000" stroke-width="2.1"/>
<path d="M1581.4,522.3 L1590.8,531.7 L1581.4,541.1 L1572,531.7 Z" fill="none" stroke="#8b0000" stroke-width="2.1"/>
<path d="M1604,503 L1613.4,512.4 L1604,521.8 L1594.6,512.4 Z" fill="none" stroke="#8b0000" stroke-width="2.1"/>
<path d="M1626.6,455.8 L1636,465.2 L1626.6,474.6 L1617.2,465.2 Z" fill="none" stroke="#8b0000" stroke-width="2.1"/>
<path d="M1648.9,399.6 L1658.3,409 L1648.9,418.4 L1639.5,409 Z" fill="none" stroke="#8b0000" stroke-width="2.1"/>
<path d="M1671.4,435.8 L1680.8,445.2 L1671.4,454.6 L1662,445.2 Z" fill="none" stroke="#8b0000" stroke-width="2.1"/>
<path d="M1693.6,430 L1703,439.4 L1693.6,448.8 L1684.2,439.4 Z" fill="none" stroke="#8b0000" stroke-width="2.1"/>
<path d="M1716.5,296.3 L1725.9,305.7 L1716.5,315.1 L1707.1,305.7 Z" fill="none" stroke="#8b0000" stroke-width="2.1"/>
<path d="M1739.1,358.1 L1748.5,367.5 L1739.1,376.9 L1729.7,367.5 Z" fill="none" stroke="#8b0000" stroke-width="2.1"/>
<path d="M1761.7,264.4 L1771.1,273.8 L1761.7,283.2 L1752.3,273.8 Z" fill="none" stroke="#8b0000" stroke-width="2.1"/>
</g>
<rect x="1131.2" y="248.4" width="771.6" height="575.7" fill="none" stroke="#000" stroke-width="1.9"/>
<line x1="1166.5" y1="824.1" x2="1166.5" y2="831.4" stroke="#000" stroke-width="1.7"/><text x="1148.64" y="856.9" font-size="20.8">10</text><text x="1176.1" y="847" font-size="14.56">0</text><line x1="1334.15" y1="824.1" x2="1334.15" y2="831.4" stroke="#000" stroke-width="1.7"/><text x="1316.29" y="856.9" font-size="20.8">10</text><text x="1343.75" y="847" font-size="14.56">1</text><line x1="1501.8" y1="824.1" x2="1501.8" y2="831.4" stroke="#000" stroke-width="1.7"/><text x="1483.94" y="856.9" font-size="20.8">10</text><text x="1511.4" y="847" font-size="14.56">2</text><line x1="1669.45" y1="824.1" x2="1669.45" y2="831.4" stroke="#000" stroke-width="1.7"/><text x="1651.59" y="856.9" font-size="20.8">10</text><text x="1679.05" y="847" font-size="14.56">3</text><line x1="1837.1" y1="824.1" x2="1837.1" y2="831.4" stroke="#000" stroke-width="1.7"/><text x="1819.24" y="856.9" font-size="20.8">10</text><text x="1846.7" y="847" font-size="14.56">4</text><line x1="1140.53" y1="824.1" x2="1140.53" y2="828.3" stroke="#000" stroke-width="1.25"/><line x1="1150.25" y1="824.1" x2="1150.25" y2="828.3" stroke="#000" stroke-width="1.25"/><line x1="1158.83" y1="824.1" x2="1158.83" y2="828.3" stroke="#000" stroke-width="1.25"/><line x1="1216.97" y1="824.1" x2="1216.97" y2="828.3" stroke="#000" stroke-width="1.25"/><line x1="1246.49" y1="824.1" x2="1246.49" y2="828.3" stroke="#000" stroke-width="1.25"/><line x1="1267.44" y1="824.1" x2="1267.44" y2="828.3" stroke="#000" stroke-width="1.25"/><line x1="1283.68" y1="824.1" x2="1283.68" y2="828.3" stroke="#000" stroke-width="1.25"/><line x1="1296.96" y1="824.1" x2="1296.96" y2="828.3" stroke="#000" stroke-width="1.25"/><line x1="1308.18" y1="824.1" x2="1308.18" y2="828.3" stroke="#000" stroke-width="1.25"/><line x1="1317.9" y1="824.1" x2="1317.9" y2="828.3" stroke="#000" stroke-width="1.25"/><line x1="1326.48" y1="824.1" x2="1326.48" y2="828.3" stroke="#000" stroke-width="1.25"/><line x1="1384.62" y1="824.1" x2="1384.62" y2="828.3" stroke="#000" stroke-width="1.25"/><line x1="1414.14" y1="824.1" x2="1414.14" y2="828.3" stroke="#000" stroke-width="1.25"/><line x1="1435.09" y1="824.1" x2="1435.09" y2="828.3" stroke="#000" stroke-width="1.25"/><line x1="1451.33" y1="824.1" x2="1451.33" y2="828.3" stroke="#000" stroke-width="1.25"/><line x1="1464.61" y1="824.1" x2="1464.61" y2="828.3" stroke="#000" stroke-width="1.25"/><line x1="1475.83" y1="824.1" x2="1475.83" y2="828.3" stroke="#000" stroke-width="1.25"/><line x1="1485.55" y1="824.1" x2="1485.55" y2="828.3" stroke="#000" stroke-width="1.25"/><line x1="1494.13" y1="824.1" x2="1494.13" y2="828.3" stroke="#000" stroke-width="1.25"/><line x1="1552.27" y1="824.1" x2="1552.27" y2="828.3" stroke="#000" stroke-width="1.25"/><line x1="1581.79" y1="824.1" x2="1581.79" y2="828.3" stroke="#000" stroke-width="1.25"/><line x1="1602.74" y1="824.1" x2="1602.74" y2="828.3" stroke="#000" stroke-width="1.25"/><line x1="1618.98" y1="824.1" x2="1618.98" y2="828.3" stroke="#000" stroke-width="1.25"/><line x1="1632.26" y1="824.1" x2="1632.26" y2="828.3" stroke="#000" stroke-width="1.25"/><line x1="1643.48" y1="824.1" x2="1643.48" y2="828.3" stroke="#000" stroke-width="1.25"/><line x1="1653.2" y1="824.1" x2="1653.2" y2="828.3" stroke="#000" stroke-width="1.25"/><line x1="1661.78" y1="824.1" x2="1661.78" y2="828.3" stroke="#000" stroke-width="1.25"/><line x1="1719.92" y1="824.1" x2="1719.92" y2="828.3" stroke="#000" stroke-width="1.25"/><line x1="1749.44" y1="824.1" x2="1749.44" y2="828.3" stroke="#000" stroke-width="1.25"/><line x1="1770.39" y1="824.1" x2="1770.39" y2="828.3" stroke="#000" stroke-width="1.25"/><line x1="1786.63" y1="824.1" x2="1786.63" y2="828.3" stroke="#000" stroke-width="1.25"/><line x1="1799.91" y1="824.1" x2="1799.91" y2="828.3" stroke="#000" stroke-width="1.25"/><line x1="1811.13" y1="824.1" x2="1811.13" y2="828.3" stroke="#000" stroke-width="1.25"/><line x1="1820.85" y1="824.1" x2="1820.85" y2="828.3" stroke="#000" stroke-width="1.25"/><line x1="1829.43" y1="824.1" x2="1829.43" y2="828.3" stroke="#000" stroke-width="1.25"/><line x1="1887.57" y1="824.1" x2="1887.57" y2="828.3" stroke="#000" stroke-width="1.25"/><line x1="1123.9" y1="758.5" x2="1131.2" y2="758.5" stroke="#000" stroke-width="1.7"/><text x="1115.3" y="766.9" font-size="20.8" text-anchor="end" fill="#000">2</text><line x1="1123.9" y1="686.58" x2="1131.2" y2="686.58" stroke="#000" stroke-width="1.7"/><text x="1115.3" y="694.98" font-size="20.8" text-anchor="end" fill="#000">4</text><line x1="1123.9" y1="614.66" x2="1131.2" y2="614.66" stroke="#000" stroke-width="1.7"/><text x="1115.3" y="623.06" font-size="20.8" text-anchor="end" fill="#000">6</text><line x1="1123.9" y1="542.74" x2="1131.2" y2="542.74" stroke="#000" stroke-width="1.7"/><text x="1115.3" y="551.14" font-size="20.8" text-anchor="end" fill="#000">8</text><line x1="1123.9" y1="470.82" x2="1131.2" y2="470.82" stroke="#000" stroke-width="1.7"/><text x="1115.3" y="479.22" font-size="20.8" text-anchor="end" fill="#000">10</text><line x1="1123.9" y1="398.9" x2="1131.2" y2="398.9" stroke="#000" stroke-width="1.7"/><text x="1115.3" y="407.3" font-size="20.8" text-anchor="end" fill="#000">12</text><line x1="1123.9" y1="326.98" x2="1131.2" y2="326.98" stroke="#000" stroke-width="1.7"/><text x="1115.3" y="335.38" font-size="20.8" text-anchor="end" fill="#000">14</text><line x1="1123.9" y1="255.06" x2="1131.2" y2="255.06" stroke="#000" stroke-width="1.7"/><text x="1115.3" y="263.46" font-size="20.8" text-anchor="end" fill="#000">16</text><line x1="1902.8" y1="822" x2="1910.1" y2="822" stroke="#000" stroke-width="1.7"/><text x="1918.3" y="832.1" font-size="27.8" text-anchor="start" fill="#8b0000" color="#8b0000">0.0</text><line x1="1902.8" y1="700.2" x2="1910.1" y2="700.2" stroke="#000" stroke-width="1.7"/><text x="1918.3" y="710.3" font-size="27.8" text-anchor="start" fill="#8b0000" color="#8b0000">0.5</text><line x1="1902.8" y1="578.4" x2="1910.1" y2="578.4" stroke="#000" stroke-width="1.7"/><text x="1918.3" y="588.5" font-size="27.8" text-anchor="start" fill="#8b0000" color="#8b0000">1.0</text><line x1="1902.8" y1="456.6" x2="1910.1" y2="456.6" stroke="#000" stroke-width="1.7"/><text x="1918.3" y="466.7" font-size="27.8" text-anchor="start" fill="#8b0000" color="#8b0000">1.5</text><line x1="1902.8" y1="334.8" x2="1910.1" y2="334.8" stroke="#000" stroke-width="1.7"/><text x="1918.3" y="344.9" font-size="27.8" text-anchor="start" fill="#8b0000" color="#8b0000">2.0</text>
<text x="1518" y="897.8" font-size="32.5" text-anchor="middle">Size of sub-volumes (mm<tspan font-size="22.75" dy="-10.4">3</tspan><tspan dx="2" dy="10.4">)</tspan></text>
<text transform="translate(1071.7,536.25) rotate(-90)" x="0" y="0" font-size="32.5" text-anchor="middle">Maximal positive failure stress (MPa)</text>
<text transform="translate(1994.1,537.25) rotate(-90)" x="0" y="0" font-size="32.5" text-anchor="middle" fill="#8b0000" color="#8b0000">Mean equivalent radius (mm)</text>
</g>
<rect x="711" y="4.4" width="558.2" height="197.1" rx="4" ry="4" fill="#fff" fill-opacity="0.8" stroke="#cccccc" stroke-width="1.7"/>
<line x1="719.4" y1="21.2" x2="759.6" y2="21.2" stroke="#000" stroke-width="3.125" stroke-linecap="square"/>
<line x1="719" y1="51" x2="760.3" y2="51" stroke="#808080" stroke-width="3.125" stroke-dasharray="11.56 5"/>
<path d="M739.5,80.6 L735.3,89 L743.7,89 Z" fill="#0000ff" stroke="#0000ff" stroke-width="1" stroke-linejoin="miter"/>
<path d="M739.5,113 L735.3,121.4 L743.7,121.4 Z" fill="#008000" stroke="#008000" stroke-width="1" stroke-linejoin="miter"/>
<circle cx="739.5" cy="148.6" r="5.3" fill="#ff0000"/>
<line x1="719" y1="181.5" x2="760.3" y2="181.5" stroke="#000" stroke-width="3.125" stroke-dasharray="3.125 5.16"/>
<text x="776.4" y="27.6" font-size="20.48" text-anchor="start" fill="#000">Mean failure stress predicted by Weibull model</text>
<text x="776.4" y="58.4" font-size="20.48" text-anchor="start" fill="#000">Standard deviation predicted by Weibull model</text>
<text x="776.4" y="89.6" font-size="20.48" textLength="472.6" lengthAdjust="spacing">Mean failure stress from <tspan font-style="italic">μCT</tspan> data (7 microns)</text>
<text x="776.4" y="121.8" font-size="20.48" textLength="485.9" lengthAdjust="spacing">Mean failure stress from <tspan font-style="italic">μCT</tspan> data (27 microns)</text>
<text x="776.4" y="153.8" font-size="20.48" text-anchor="start" fill="#000">Mean failure stress from bending tests</text>
<text x="776.4" y="187.6" font-size="20.48" font-style="italic">σ</text><text x="790" y="190.6" font-size="14.34" font-style="italic">f</text><text x="798.6" y="187.6" font-size="20.48">=</text><text x="820.2" y="187.6" font-size="20.48">828(</text><text x="866" y="187.6" font-size="20.48" font-style="italic">V</text><text x="880.8" y="187.6" font-size="20.48">/</text><text x="886.2" y="187.6" font-size="20.48" font-style="italic">V</text><text x="901.8" y="190.6" font-size="14.34">0</text><text x="911.4" y="187.6" font-size="20.48">)</text><text x="920.2" y="178.8" font-size="14.34">−0.13</text><text x="970.2" y="187.6" font-size="20.48">(Aly et al. 2019)</text>
</svg>
</body></html>
